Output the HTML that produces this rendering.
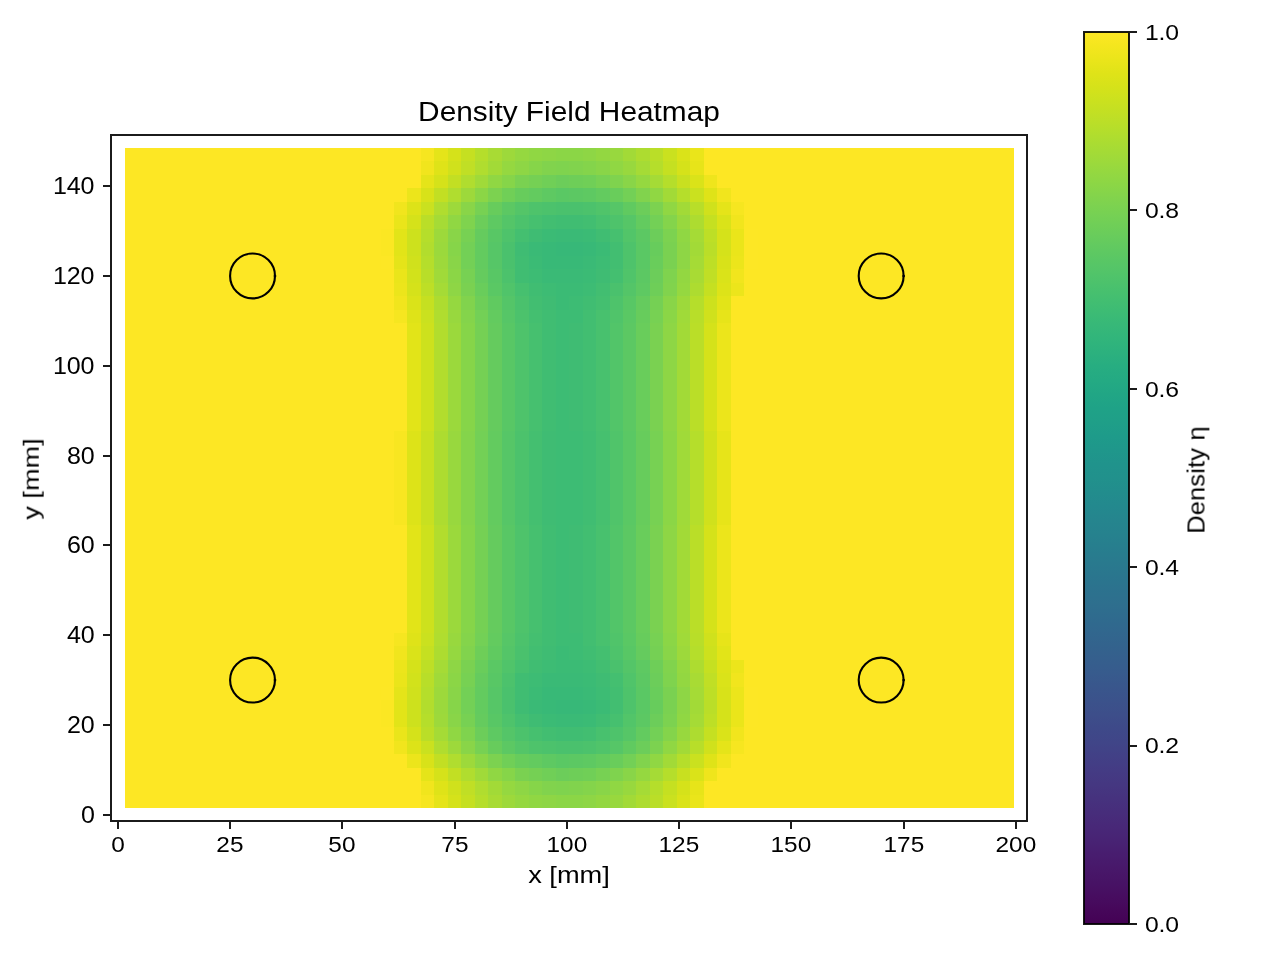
<!DOCTYPE html>
<html><head><meta charset="utf-8"><title>Density Field Heatmap</title>
<style>
html,body{margin:0;padding:0;background:#fff;}
body{width:1280px;height:960px;position:relative;overflow:hidden;font-family:"Liberation Sans",sans-serif;color:#000;}
svg{position:absolute;left:0;top:0;}
.t{position:absolute;white-space:nowrap;line-height:1;will-change:transform;}
</style></head><body>
<svg width="1280" height="960" viewBox="0 0 1280 960">
<defs><linearGradient id="vir" x1="0" y1="1" x2="0" y2="0">
<stop offset="0.0000" stop-color="#440154"/>
<stop offset="0.0156" stop-color="#46075a"/>
<stop offset="0.0312" stop-color="#470d60"/>
<stop offset="0.0469" stop-color="#471365"/>
<stop offset="0.0625" stop-color="#48186a"/>
<stop offset="0.0781" stop-color="#481d6f"/>
<stop offset="0.0938" stop-color="#482374"/>
<stop offset="0.1094" stop-color="#482878"/>
<stop offset="0.1250" stop-color="#472d7b"/>
<stop offset="0.1406" stop-color="#46327e"/>
<stop offset="0.1562" stop-color="#453781"/>
<stop offset="0.1719" stop-color="#443b84"/>
<stop offset="0.1875" stop-color="#424086"/>
<stop offset="0.2031" stop-color="#404588"/>
<stop offset="0.2188" stop-color="#3e4989"/>
<stop offset="0.2344" stop-color="#3d4e8a"/>
<stop offset="0.2500" stop-color="#3b528b"/>
<stop offset="0.2656" stop-color="#39568c"/>
<stop offset="0.2812" stop-color="#375b8d"/>
<stop offset="0.2969" stop-color="#355f8d"/>
<stop offset="0.3125" stop-color="#33638d"/>
<stop offset="0.3281" stop-color="#31678e"/>
<stop offset="0.3438" stop-color="#2f6b8e"/>
<stop offset="0.3594" stop-color="#2e6f8e"/>
<stop offset="0.3750" stop-color="#2c728e"/>
<stop offset="0.3906" stop-color="#2a768e"/>
<stop offset="0.4062" stop-color="#297a8e"/>
<stop offset="0.4219" stop-color="#277e8e"/>
<stop offset="0.4375" stop-color="#26828e"/>
<stop offset="0.4531" stop-color="#25858e"/>
<stop offset="0.4688" stop-color="#23898e"/>
<stop offset="0.4844" stop-color="#228d8d"/>
<stop offset="0.5000" stop-color="#21918c"/>
<stop offset="0.5156" stop-color="#20938c"/>
<stop offset="0.5312" stop-color="#1f978b"/>
<stop offset="0.5469" stop-color="#1e9b8a"/>
<stop offset="0.5625" stop-color="#1f9f88"/>
<stop offset="0.5781" stop-color="#1fa287"/>
<stop offset="0.5938" stop-color="#21a685"/>
<stop offset="0.6094" stop-color="#24aa83"/>
<stop offset="0.6250" stop-color="#27ad81"/>
<stop offset="0.6406" stop-color="#2cb17e"/>
<stop offset="0.6562" stop-color="#31b57b"/>
<stop offset="0.6719" stop-color="#37b878"/>
<stop offset="0.6875" stop-color="#3dbc74"/>
<stop offset="0.7031" stop-color="#44bf70"/>
<stop offset="0.7188" stop-color="#4cc26c"/>
<stop offset="0.7344" stop-color="#54c568"/>
<stop offset="0.7500" stop-color="#5cc863"/>
<stop offset="0.7656" stop-color="#65cb5e"/>
<stop offset="0.7812" stop-color="#6ece58"/>
<stop offset="0.7969" stop-color="#77d153"/>
<stop offset="0.8125" stop-color="#81d34d"/>
<stop offset="0.8281" stop-color="#8bd646"/>
<stop offset="0.8438" stop-color="#95d840"/>
<stop offset="0.8594" stop-color="#a0da39"/>
<stop offset="0.8750" stop-color="#aadc32"/>
<stop offset="0.8906" stop-color="#b5de2b"/>
<stop offset="0.9062" stop-color="#c0df25"/>
<stop offset="0.9219" stop-color="#cae11f"/>
<stop offset="0.9375" stop-color="#d5e21a"/>
<stop offset="0.9531" stop-color="#dfe318"/>
<stop offset="0.9688" stop-color="#eae51a"/>
<stop offset="0.9844" stop-color="#f4e61e"/>
<stop offset="1.0000" stop-color="#fde725"/>
</linearGradient></defs>
<g shape-rendering="crispEdges">
<rect x="125" y="148" width="889" height="660" fill="#fde724"/>
<rect x="421" y="148" width="13" height="13" fill="#f6e620"/>
<rect x="434" y="148" width="14" height="13" fill="#e5e419"/>
<rect x="448" y="148" width="13" height="13" fill="#d5e21a"/>
<rect x="461" y="148" width="14" height="13" fill="#c5e021"/>
<rect x="475" y="148" width="13" height="13" fill="#b5de2b"/>
<rect x="488" y="148" width="14" height="13" fill="#a8db34"/>
<rect x="502" y="148" width="13" height="13" fill="#9dd93b"/>
<rect x="515" y="148" width="14" height="13" fill="#95d840"/>
<rect x="529" y="148" width="13" height="13" fill="#90d743"/>
<rect x="542" y="148" width="14" height="13" fill="#8ed645"/>
<rect x="556" y="148" width="27" height="13" fill="#8bd646"/>
<rect x="583" y="148" width="13" height="13" fill="#8ed645"/>
<rect x="596" y="148" width="14" height="13" fill="#93d741"/>
<rect x="610" y="148" width="13" height="13" fill="#98d83e"/>
<rect x="623" y="148" width="13" height="13" fill="#a2da37"/>
<rect x="636" y="148" width="14" height="13" fill="#addc30"/>
<rect x="650" y="148" width="13" height="13" fill="#bade28"/>
<rect x="663" y="148" width="14" height="13" fill="#cae11f"/>
<rect x="677" y="148" width="13" height="13" fill="#dae319"/>
<rect x="690" y="148" width="14" height="13" fill="#eae51a"/>
<rect x="421" y="161" width="13" height="14" fill="#f1e51d"/>
<rect x="434" y="161" width="14" height="14" fill="#dfe318"/>
<rect x="448" y="161" width="13" height="14" fill="#d0e11c"/>
<rect x="461" y="161" width="14" height="14" fill="#c0df25"/>
<rect x="475" y="161" width="13" height="14" fill="#b0dd2f"/>
<rect x="488" y="161" width="14" height="14" fill="#a2da37"/>
<rect x="502" y="161" width="13" height="14" fill="#95d840"/>
<rect x="515" y="161" width="14" height="14" fill="#8ed645"/>
<rect x="529" y="161" width="13" height="14" fill="#86d549"/>
<rect x="542" y="161" width="14" height="14" fill="#81d34d"/>
<rect x="556" y="161" width="13" height="14" fill="#7fd34e"/>
<rect x="569" y="161" width="14" height="14" fill="#81d34d"/>
<rect x="583" y="161" width="13" height="14" fill="#84d44b"/>
<rect x="596" y="161" width="14" height="14" fill="#89d548"/>
<rect x="610" y="161" width="13" height="14" fill="#90d743"/>
<rect x="623" y="161" width="13" height="14" fill="#98d83e"/>
<rect x="636" y="161" width="14" height="14" fill="#a5db36"/>
<rect x="650" y="161" width="13" height="14" fill="#b5de2b"/>
<rect x="663" y="161" width="14" height="14" fill="#c5e021"/>
<rect x="677" y="161" width="13" height="14" fill="#d5e21a"/>
<rect x="690" y="161" width="14" height="14" fill="#e7e419"/>
<rect x="421" y="175" width="13" height="13" fill="#e5e419"/>
<rect x="434" y="175" width="14" height="13" fill="#d5e21a"/>
<rect x="448" y="175" width="13" height="13" fill="#c2df23"/>
<rect x="461" y="175" width="14" height="13" fill="#b0dd2f"/>
<rect x="475" y="175" width="13" height="13" fill="#a0da39"/>
<rect x="488" y="175" width="14" height="13" fill="#90d743"/>
<rect x="502" y="175" width="13" height="13" fill="#86d549"/>
<rect x="515" y="175" width="14" height="13" fill="#7ad151"/>
<rect x="529" y="175" width="13" height="13" fill="#75d054"/>
<rect x="542" y="175" width="14" height="13" fill="#70cf57"/>
<rect x="556" y="175" width="13" height="13" fill="#6ccd5a"/>
<rect x="569" y="175" width="14" height="13" fill="#6ece58"/>
<rect x="583" y="175" width="13" height="13" fill="#70cf57"/>
<rect x="596" y="175" width="14" height="13" fill="#77d153"/>
<rect x="610" y="175" width="13" height="13" fill="#7fd34e"/>
<rect x="623" y="175" width="13" height="13" fill="#89d548"/>
<rect x="636" y="175" width="14" height="13" fill="#95d840"/>
<rect x="650" y="175" width="13" height="13" fill="#a5db36"/>
<rect x="663" y="175" width="14" height="13" fill="#b5de2b"/>
<rect x="677" y="175" width="13" height="13" fill="#c8e020"/>
<rect x="690" y="175" width="14" height="13" fill="#dae319"/>
<rect x="704" y="175" width="13" height="13" fill="#efe51c"/>
<rect x="407" y="188" width="14" height="14" fill="#ece51b"/>
<rect x="421" y="188" width="13" height="14" fill="#d8e219"/>
<rect x="434" y="188" width="14" height="14" fill="#c2df23"/>
<rect x="448" y="188" width="13" height="14" fill="#b0dd2f"/>
<rect x="461" y="188" width="14" height="14" fill="#9dd93b"/>
<rect x="475" y="188" width="13" height="14" fill="#8bd646"/>
<rect x="488" y="188" width="14" height="14" fill="#7cd250"/>
<rect x="502" y="188" width="13" height="14" fill="#70cf57"/>
<rect x="515" y="188" width="14" height="14" fill="#67cc5c"/>
<rect x="529" y="188" width="13" height="14" fill="#63cb5f"/>
<rect x="542" y="188" width="14" height="14" fill="#5ec962"/>
<rect x="556" y="188" width="13" height="14" fill="#5ac864"/>
<rect x="569" y="188" width="14" height="14" fill="#5cc863"/>
<rect x="583" y="188" width="13" height="14" fill="#5ec962"/>
<rect x="596" y="188" width="14" height="14" fill="#63cb5f"/>
<rect x="610" y="188" width="13" height="14" fill="#69cd5b"/>
<rect x="623" y="188" width="13" height="14" fill="#73d056"/>
<rect x="636" y="188" width="14" height="14" fill="#81d34d"/>
<rect x="650" y="188" width="13" height="14" fill="#90d743"/>
<rect x="663" y="188" width="14" height="14" fill="#a2da37"/>
<rect x="677" y="188" width="13" height="14" fill="#b5de2b"/>
<rect x="690" y="188" width="14" height="14" fill="#cae11f"/>
<rect x="704" y="188" width="13" height="14" fill="#dfe318"/>
<rect x="717" y="188" width="14" height="14" fill="#f1e51d"/>
<rect x="394" y="202" width="13" height="13" fill="#f1e51d"/>
<rect x="407" y="202" width="14" height="13" fill="#dde318"/>
<rect x="421" y="202" width="13" height="13" fill="#cae11f"/>
<rect x="434" y="202" width="14" height="13" fill="#b0dd2f"/>
<rect x="448" y="202" width="13" height="13" fill="#9dd93b"/>
<rect x="461" y="202" width="14" height="13" fill="#89d548"/>
<rect x="475" y="202" width="13" height="13" fill="#77d153"/>
<rect x="488" y="202" width="14" height="13" fill="#67cc5c"/>
<rect x="502" y="202" width="13" height="13" fill="#5cc863"/>
<rect x="515" y="202" width="14" height="13" fill="#54c568"/>
<rect x="529" y="202" width="13" height="13" fill="#4ec36b"/>
<rect x="542" y="202" width="14" height="13" fill="#4cc26c"/>
<rect x="556" y="202" width="27" height="13" fill="#4ac16d"/>
<rect x="583" y="202" width="13" height="13" fill="#4cc26c"/>
<rect x="596" y="202" width="14" height="13" fill="#50c46a"/>
<rect x="610" y="202" width="13" height="13" fill="#56c667"/>
<rect x="623" y="202" width="13" height="13" fill="#60ca60"/>
<rect x="636" y="202" width="14" height="13" fill="#6ccd5a"/>
<rect x="650" y="202" width="13" height="13" fill="#7cd250"/>
<rect x="663" y="202" width="14" height="13" fill="#90d743"/>
<rect x="677" y="202" width="13" height="13" fill="#a2da37"/>
<rect x="690" y="202" width="14" height="13" fill="#b8de29"/>
<rect x="704" y="202" width="13" height="13" fill="#d0e11c"/>
<rect x="717" y="202" width="14" height="13" fill="#e5e419"/>
<rect x="731" y="202" width="13" height="13" fill="#f6e620"/>
<rect x="394" y="215" width="13" height="14" fill="#eae51a"/>
<rect x="407" y="215" width="14" height="14" fill="#d5e21a"/>
<rect x="421" y="215" width="13" height="14" fill="#bade28"/>
<rect x="434" y="215" width="14" height="14" fill="#a5db36"/>
<rect x="448" y="215" width="13" height="14" fill="#90d743"/>
<rect x="461" y="215" width="14" height="14" fill="#7fd34e"/>
<rect x="475" y="215" width="13" height="14" fill="#6ccd5a"/>
<rect x="488" y="215" width="14" height="14" fill="#5ec962"/>
<rect x="502" y="215" width="13" height="14" fill="#54c568"/>
<rect x="515" y="215" width="14" height="14" fill="#4cc26c"/>
<rect x="529" y="215" width="13" height="14" fill="#46c06f"/>
<rect x="542" y="215" width="14" height="14" fill="#42be71"/>
<rect x="556" y="215" width="27" height="14" fill="#40bd72"/>
<rect x="583" y="215" width="13" height="14" fill="#42be71"/>
<rect x="596" y="215" width="14" height="14" fill="#48c16e"/>
<rect x="610" y="215" width="13" height="14" fill="#4ec36b"/>
<rect x="623" y="215" width="13" height="14" fill="#56c667"/>
<rect x="636" y="215" width="14" height="14" fill="#63cb5f"/>
<rect x="650" y="215" width="13" height="14" fill="#73d056"/>
<rect x="663" y="215" width="14" height="14" fill="#84d44b"/>
<rect x="677" y="215" width="13" height="14" fill="#98d83e"/>
<rect x="690" y="215" width="14" height="14" fill="#addc30"/>
<rect x="704" y="215" width="13" height="14" fill="#c5e021"/>
<rect x="717" y="215" width="14" height="14" fill="#dae319"/>
<rect x="731" y="215" width="13" height="14" fill="#f1e51d"/>
<rect x="381" y="229" width="13" height="13" fill="#fbe723"/>
<rect x="394" y="229" width="13" height="13" fill="#e2e418"/>
<rect x="407" y="229" width="14" height="13" fill="#cde11d"/>
<rect x="421" y="229" width="13" height="13" fill="#b5de2b"/>
<rect x="434" y="229" width="14" height="13" fill="#9dd93b"/>
<rect x="448" y="229" width="13" height="13" fill="#89d548"/>
<rect x="461" y="229" width="14" height="13" fill="#77d153"/>
<rect x="475" y="229" width="13" height="13" fill="#65cb5e"/>
<rect x="488" y="229" width="14" height="13" fill="#58c765"/>
<rect x="502" y="229" width="13" height="13" fill="#4ec36b"/>
<rect x="515" y="229" width="14" height="13" fill="#44bf70"/>
<rect x="529" y="229" width="13" height="13" fill="#3fbc73"/>
<rect x="542" y="229" width="14" height="13" fill="#3bbb75"/>
<rect x="556" y="229" width="27" height="13" fill="#3aba76"/>
<rect x="583" y="229" width="13" height="13" fill="#3bbb75"/>
<rect x="596" y="229" width="14" height="13" fill="#40bd72"/>
<rect x="610" y="229" width="13" height="13" fill="#46c06f"/>
<rect x="623" y="229" width="13" height="13" fill="#52c569"/>
<rect x="636" y="229" width="14" height="13" fill="#5cc863"/>
<rect x="650" y="229" width="13" height="13" fill="#6ccd5a"/>
<rect x="663" y="229" width="14" height="13" fill="#7cd250"/>
<rect x="677" y="229" width="13" height="13" fill="#90d743"/>
<rect x="690" y="229" width="14" height="13" fill="#a5db36"/>
<rect x="704" y="229" width="13" height="13" fill="#bddf26"/>
<rect x="717" y="229" width="14" height="13" fill="#d5e21a"/>
<rect x="731" y="229" width="13" height="13" fill="#eae51a"/>
<rect x="744" y="229" width="14" height="13" fill="#fde725"/>
<rect x="381" y="242" width="13" height="14" fill="#fbe723"/>
<rect x="394" y="242" width="13" height="14" fill="#e2e418"/>
<rect x="407" y="242" width="14" height="14" fill="#cde11d"/>
<rect x="421" y="242" width="13" height="14" fill="#b2dd2d"/>
<rect x="434" y="242" width="14" height="14" fill="#9bd93c"/>
<rect x="448" y="242" width="13" height="14" fill="#86d549"/>
<rect x="461" y="242" width="14" height="14" fill="#73d056"/>
<rect x="475" y="242" width="13" height="14" fill="#63cb5f"/>
<rect x="488" y="242" width="14" height="14" fill="#56c667"/>
<rect x="502" y="242" width="13" height="14" fill="#4ac16d"/>
<rect x="515" y="242" width="14" height="14" fill="#3fbc73"/>
<rect x="529" y="242" width="13" height="14" fill="#3aba76"/>
<rect x="542" y="242" width="14" height="14" fill="#38b977"/>
<rect x="556" y="242" width="27" height="14" fill="#37b878"/>
<rect x="583" y="242" width="13" height="14" fill="#38b977"/>
<rect x="596" y="242" width="14" height="14" fill="#3bbb75"/>
<rect x="610" y="242" width="13" height="14" fill="#42be71"/>
<rect x="623" y="242" width="13" height="14" fill="#4ec36b"/>
<rect x="636" y="242" width="14" height="14" fill="#5ac864"/>
<rect x="650" y="242" width="13" height="14" fill="#67cc5c"/>
<rect x="663" y="242" width="14" height="14" fill="#7ad151"/>
<rect x="677" y="242" width="13" height="14" fill="#8ed645"/>
<rect x="690" y="242" width="14" height="14" fill="#a2da37"/>
<rect x="704" y="242" width="13" height="14" fill="#bade28"/>
<rect x="717" y="242" width="14" height="14" fill="#d5e21a"/>
<rect x="731" y="242" width="13" height="14" fill="#eae51a"/>
<rect x="744" y="242" width="14" height="14" fill="#fde725"/>
<rect x="381" y="256" width="13" height="13" fill="#fde725"/>
<rect x="394" y="256" width="13" height="13" fill="#e5e419"/>
<rect x="407" y="256" width="14" height="13" fill="#d0e11c"/>
<rect x="421" y="256" width="13" height="13" fill="#b5de2b"/>
<rect x="434" y="256" width="14" height="13" fill="#9dd93b"/>
<rect x="448" y="256" width="13" height="13" fill="#89d548"/>
<rect x="461" y="256" width="14" height="13" fill="#73d056"/>
<rect x="475" y="256" width="13" height="13" fill="#63cb5f"/>
<rect x="488" y="256" width="14" height="13" fill="#56c667"/>
<rect x="502" y="256" width="13" height="13" fill="#4ac16d"/>
<rect x="515" y="256" width="14" height="13" fill="#40bd72"/>
<rect x="529" y="256" width="13" height="13" fill="#3bbb75"/>
<rect x="542" y="256" width="41" height="13" fill="#38b977"/>
<rect x="583" y="256" width="13" height="13" fill="#3aba76"/>
<rect x="596" y="256" width="14" height="13" fill="#3dbc74"/>
<rect x="610" y="256" width="13" height="13" fill="#42be71"/>
<rect x="623" y="256" width="13" height="13" fill="#4ec36b"/>
<rect x="636" y="256" width="14" height="13" fill="#5ac864"/>
<rect x="650" y="256" width="13" height="13" fill="#69cd5b"/>
<rect x="663" y="256" width="14" height="13" fill="#7ad151"/>
<rect x="677" y="256" width="13" height="13" fill="#8ed645"/>
<rect x="690" y="256" width="14" height="13" fill="#a5db36"/>
<rect x="704" y="256" width="13" height="13" fill="#bddf26"/>
<rect x="717" y="256" width="14" height="13" fill="#d8e219"/>
<rect x="731" y="256" width="13" height="13" fill="#ece51b"/>
<rect x="744" y="256" width="14" height="13" fill="#fde725"/>
<rect x="394" y="269" width="13" height="14" fill="#eae51a"/>
<rect x="407" y="269" width="14" height="14" fill="#d2e21b"/>
<rect x="421" y="269" width="13" height="14" fill="#b8de29"/>
<rect x="434" y="269" width="14" height="14" fill="#a0da39"/>
<rect x="448" y="269" width="13" height="14" fill="#8bd646"/>
<rect x="461" y="269" width="14" height="14" fill="#77d153"/>
<rect x="475" y="269" width="13" height="14" fill="#65cb5e"/>
<rect x="488" y="269" width="14" height="14" fill="#58c765"/>
<rect x="502" y="269" width="13" height="14" fill="#4cc26c"/>
<rect x="515" y="269" width="14" height="14" fill="#40bd72"/>
<rect x="529" y="269" width="13" height="14" fill="#3dbc74"/>
<rect x="542" y="269" width="41" height="14" fill="#3aba76"/>
<rect x="583" y="269" width="13" height="14" fill="#3bbb75"/>
<rect x="596" y="269" width="14" height="14" fill="#3fbc73"/>
<rect x="610" y="269" width="13" height="14" fill="#44bf70"/>
<rect x="623" y="269" width="13" height="14" fill="#50c46a"/>
<rect x="636" y="269" width="14" height="14" fill="#5cc863"/>
<rect x="650" y="269" width="13" height="14" fill="#6ccd5a"/>
<rect x="663" y="269" width="14" height="14" fill="#7fd34e"/>
<rect x="677" y="269" width="13" height="14" fill="#93d741"/>
<rect x="690" y="269" width="14" height="14" fill="#a8db34"/>
<rect x="704" y="269" width="13" height="14" fill="#c0df25"/>
<rect x="717" y="269" width="14" height="14" fill="#dae319"/>
<rect x="731" y="269" width="13" height="14" fill="#f1e51d"/>
<rect x="394" y="283" width="13" height="13" fill="#ece51b"/>
<rect x="407" y="283" width="14" height="13" fill="#d5e21a"/>
<rect x="421" y="283" width="13" height="13" fill="#bddf26"/>
<rect x="434" y="283" width="14" height="13" fill="#a5db36"/>
<rect x="448" y="283" width="13" height="13" fill="#8ed645"/>
<rect x="461" y="283" width="14" height="13" fill="#7ad151"/>
<rect x="475" y="283" width="13" height="13" fill="#69cd5b"/>
<rect x="488" y="283" width="14" height="13" fill="#5ac864"/>
<rect x="502" y="283" width="13" height="13" fill="#50c46a"/>
<rect x="515" y="283" width="14" height="13" fill="#46c06f"/>
<rect x="529" y="283" width="13" height="13" fill="#40bd72"/>
<rect x="542" y="283" width="14" height="13" fill="#3dbc74"/>
<rect x="556" y="283" width="27" height="13" fill="#3bbb75"/>
<rect x="583" y="283" width="13" height="13" fill="#3dbc74"/>
<rect x="596" y="283" width="14" height="13" fill="#42be71"/>
<rect x="610" y="283" width="13" height="13" fill="#4ac16d"/>
<rect x="623" y="283" width="13" height="13" fill="#54c568"/>
<rect x="636" y="283" width="14" height="13" fill="#5ec962"/>
<rect x="650" y="283" width="13" height="13" fill="#6ece58"/>
<rect x="663" y="283" width="14" height="13" fill="#81d34d"/>
<rect x="677" y="283" width="13" height="13" fill="#95d840"/>
<rect x="690" y="283" width="14" height="13" fill="#addc30"/>
<rect x="704" y="283" width="13" height="13" fill="#c5e021"/>
<rect x="717" y="283" width="14" height="13" fill="#dde318"/>
<rect x="731" y="283" width="13" height="13" fill="#ece51b"/>
<rect x="394" y="296" width="13" height="14" fill="#f1e51d"/>
<rect x="407" y="296" width="14" height="14" fill="#dae319"/>
<rect x="421" y="296" width="13" height="14" fill="#c5e021"/>
<rect x="434" y="296" width="14" height="14" fill="#addc30"/>
<rect x="448" y="296" width="13" height="14" fill="#95d840"/>
<rect x="461" y="296" width="14" height="14" fill="#81d34d"/>
<rect x="475" y="296" width="13" height="14" fill="#6ece58"/>
<rect x="488" y="296" width="14" height="14" fill="#60ca60"/>
<rect x="502" y="296" width="13" height="14" fill="#54c568"/>
<rect x="515" y="296" width="14" height="14" fill="#4ac16d"/>
<rect x="529" y="296" width="13" height="14" fill="#42be71"/>
<rect x="542" y="296" width="14" height="14" fill="#3fbc73"/>
<rect x="556" y="296" width="13" height="14" fill="#3bbb75"/>
<rect x="569" y="296" width="14" height="14" fill="#3dbc74"/>
<rect x="583" y="296" width="13" height="14" fill="#40bd72"/>
<rect x="596" y="296" width="14" height="14" fill="#44bf70"/>
<rect x="610" y="296" width="13" height="14" fill="#4ec36b"/>
<rect x="623" y="296" width="13" height="14" fill="#58c765"/>
<rect x="636" y="296" width="14" height="14" fill="#65cb5e"/>
<rect x="650" y="296" width="13" height="14" fill="#75d054"/>
<rect x="663" y="296" width="14" height="14" fill="#89d548"/>
<rect x="677" y="296" width="13" height="14" fill="#9dd93b"/>
<rect x="690" y="296" width="14" height="14" fill="#b5de2b"/>
<rect x="704" y="296" width="13" height="14" fill="#cde11d"/>
<rect x="717" y="296" width="14" height="14" fill="#e2e418"/>
<rect x="394" y="310" width="13" height="13" fill="#f6e620"/>
<rect x="407" y="310" width="14" height="13" fill="#dfe318"/>
<rect x="421" y="310" width="13" height="13" fill="#cae11f"/>
<rect x="434" y="310" width="14" height="13" fill="#b0dd2f"/>
<rect x="448" y="310" width="13" height="13" fill="#98d83e"/>
<rect x="461" y="310" width="14" height="13" fill="#84d44b"/>
<rect x="475" y="310" width="13" height="13" fill="#73d056"/>
<rect x="488" y="310" width="14" height="13" fill="#63cb5f"/>
<rect x="502" y="310" width="13" height="13" fill="#56c667"/>
<rect x="515" y="310" width="14" height="13" fill="#4cc26c"/>
<rect x="529" y="310" width="13" height="13" fill="#44bf70"/>
<rect x="542" y="310" width="14" height="13" fill="#40bd72"/>
<rect x="556" y="310" width="27" height="13" fill="#3dbc74"/>
<rect x="583" y="310" width="13" height="13" fill="#42be71"/>
<rect x="596" y="310" width="14" height="13" fill="#48c16e"/>
<rect x="610" y="310" width="13" height="13" fill="#50c46a"/>
<rect x="623" y="310" width="13" height="13" fill="#5ac864"/>
<rect x="636" y="310" width="14" height="13" fill="#67cc5c"/>
<rect x="650" y="310" width="13" height="13" fill="#77d153"/>
<rect x="663" y="310" width="14" height="13" fill="#8bd646"/>
<rect x="677" y="310" width="13" height="13" fill="#a0da39"/>
<rect x="690" y="310" width="14" height="13" fill="#b8de29"/>
<rect x="704" y="310" width="13" height="13" fill="#d0e11c"/>
<rect x="717" y="310" width="14" height="13" fill="#e7e419"/>
<rect x="407" y="323" width="14" height="14" fill="#e2e418"/>
<rect x="421" y="323" width="13" height="14" fill="#cde11d"/>
<rect x="434" y="323" width="14" height="14" fill="#b2dd2d"/>
<rect x="448" y="323" width="13" height="14" fill="#9bd93c"/>
<rect x="461" y="323" width="14" height="14" fill="#86d549"/>
<rect x="475" y="323" width="13" height="14" fill="#75d054"/>
<rect x="488" y="323" width="14" height="14" fill="#65cb5e"/>
<rect x="502" y="323" width="13" height="14" fill="#58c765"/>
<rect x="515" y="323" width="14" height="14" fill="#4ec36b"/>
<rect x="529" y="323" width="13" height="14" fill="#46c06f"/>
<rect x="542" y="323" width="14" height="14" fill="#40bd72"/>
<rect x="556" y="323" width="13" height="14" fill="#3dbc74"/>
<rect x="569" y="323" width="14" height="14" fill="#3fbc73"/>
<rect x="583" y="323" width="13" height="14" fill="#42be71"/>
<rect x="596" y="323" width="14" height="14" fill="#48c16e"/>
<rect x="610" y="323" width="13" height="14" fill="#52c569"/>
<rect x="623" y="323" width="13" height="14" fill="#5cc863"/>
<rect x="636" y="323" width="14" height="14" fill="#69cd5b"/>
<rect x="650" y="323" width="13" height="14" fill="#7ad151"/>
<rect x="663" y="323" width="14" height="14" fill="#8ed645"/>
<rect x="677" y="323" width="13" height="14" fill="#a2da37"/>
<rect x="690" y="323" width="14" height="14" fill="#bade28"/>
<rect x="704" y="323" width="13" height="14" fill="#d5e21a"/>
<rect x="717" y="323" width="14" height="14" fill="#ece51b"/>
<rect x="407" y="337" width="14" height="13" fill="#e2e418"/>
<rect x="421" y="337" width="13" height="13" fill="#cde11d"/>
<rect x="434" y="337" width="14" height="13" fill="#b2dd2d"/>
<rect x="448" y="337" width="13" height="13" fill="#9bd93c"/>
<rect x="461" y="337" width="14" height="13" fill="#86d549"/>
<rect x="475" y="337" width="13" height="13" fill="#75d054"/>
<rect x="488" y="337" width="14" height="13" fill="#65cb5e"/>
<rect x="502" y="337" width="13" height="13" fill="#58c765"/>
<rect x="515" y="337" width="14" height="13" fill="#4ec36b"/>
<rect x="529" y="337" width="13" height="13" fill="#46c06f"/>
<rect x="542" y="337" width="14" height="13" fill="#40bd72"/>
<rect x="556" y="337" width="13" height="13" fill="#3dbc74"/>
<rect x="569" y="337" width="14" height="13" fill="#3fbc73"/>
<rect x="583" y="337" width="13" height="13" fill="#42be71"/>
<rect x="596" y="337" width="14" height="13" fill="#48c16e"/>
<rect x="610" y="337" width="13" height="13" fill="#52c569"/>
<rect x="623" y="337" width="13" height="13" fill="#5cc863"/>
<rect x="636" y="337" width="14" height="13" fill="#69cd5b"/>
<rect x="650" y="337" width="13" height="13" fill="#7ad151"/>
<rect x="663" y="337" width="14" height="13" fill="#8ed645"/>
<rect x="677" y="337" width="13" height="13" fill="#a2da37"/>
<rect x="690" y="337" width="14" height="13" fill="#bade28"/>
<rect x="704" y="337" width="13" height="13" fill="#d5e21a"/>
<rect x="717" y="337" width="14" height="13" fill="#ece51b"/>
<rect x="407" y="350" width="14" height="13" fill="#e2e418"/>
<rect x="421" y="350" width="13" height="13" fill="#cde11d"/>
<rect x="434" y="350" width="14" height="13" fill="#b2dd2d"/>
<rect x="448" y="350" width="13" height="13" fill="#9bd93c"/>
<rect x="461" y="350" width="14" height="13" fill="#86d549"/>
<rect x="475" y="350" width="13" height="13" fill="#75d054"/>
<rect x="488" y="350" width="14" height="13" fill="#65cb5e"/>
<rect x="502" y="350" width="13" height="13" fill="#58c765"/>
<rect x="515" y="350" width="14" height="13" fill="#4ec36b"/>
<rect x="529" y="350" width="13" height="13" fill="#46c06f"/>
<rect x="542" y="350" width="14" height="13" fill="#40bd72"/>
<rect x="556" y="350" width="13" height="13" fill="#3dbc74"/>
<rect x="569" y="350" width="14" height="13" fill="#3fbc73"/>
<rect x="583" y="350" width="13" height="13" fill="#42be71"/>
<rect x="596" y="350" width="14" height="13" fill="#48c16e"/>
<rect x="610" y="350" width="13" height="13" fill="#52c569"/>
<rect x="623" y="350" width="13" height="13" fill="#5cc863"/>
<rect x="636" y="350" width="14" height="13" fill="#69cd5b"/>
<rect x="650" y="350" width="13" height="13" fill="#7ad151"/>
<rect x="663" y="350" width="14" height="13" fill="#8ed645"/>
<rect x="677" y="350" width="13" height="13" fill="#a2da37"/>
<rect x="690" y="350" width="14" height="13" fill="#bade28"/>
<rect x="704" y="350" width="13" height="13" fill="#d5e21a"/>
<rect x="717" y="350" width="14" height="13" fill="#ece51b"/>
<rect x="407" y="363" width="14" height="14" fill="#e2e418"/>
<rect x="421" y="363" width="13" height="14" fill="#cde11d"/>
<rect x="434" y="363" width="14" height="14" fill="#b2dd2d"/>
<rect x="448" y="363" width="13" height="14" fill="#9bd93c"/>
<rect x="461" y="363" width="14" height="14" fill="#86d549"/>
<rect x="475" y="363" width="13" height="14" fill="#75d054"/>
<rect x="488" y="363" width="14" height="14" fill="#65cb5e"/>
<rect x="502" y="363" width="13" height="14" fill="#58c765"/>
<rect x="515" y="363" width="14" height="14" fill="#4ec36b"/>
<rect x="529" y="363" width="13" height="14" fill="#46c06f"/>
<rect x="542" y="363" width="14" height="14" fill="#40bd72"/>
<rect x="556" y="363" width="13" height="14" fill="#3dbc74"/>
<rect x="569" y="363" width="14" height="14" fill="#3fbc73"/>
<rect x="583" y="363" width="13" height="14" fill="#42be71"/>
<rect x="596" y="363" width="14" height="14" fill="#48c16e"/>
<rect x="610" y="363" width="13" height="14" fill="#52c569"/>
<rect x="623" y="363" width="13" height="14" fill="#5cc863"/>
<rect x="636" y="363" width="14" height="14" fill="#69cd5b"/>
<rect x="650" y="363" width="13" height="14" fill="#7ad151"/>
<rect x="663" y="363" width="14" height="14" fill="#8ed645"/>
<rect x="677" y="363" width="13" height="14" fill="#a2da37"/>
<rect x="690" y="363" width="14" height="14" fill="#bade28"/>
<rect x="704" y="363" width="13" height="14" fill="#d5e21a"/>
<rect x="717" y="363" width="14" height="14" fill="#ece51b"/>
<rect x="407" y="377" width="14" height="13" fill="#e2e418"/>
<rect x="421" y="377" width="13" height="13" fill="#cde11d"/>
<rect x="434" y="377" width="14" height="13" fill="#b2dd2d"/>
<rect x="448" y="377" width="13" height="13" fill="#9bd93c"/>
<rect x="461" y="377" width="14" height="13" fill="#86d549"/>
<rect x="475" y="377" width="13" height="13" fill="#75d054"/>
<rect x="488" y="377" width="14" height="13" fill="#65cb5e"/>
<rect x="502" y="377" width="13" height="13" fill="#58c765"/>
<rect x="515" y="377" width="14" height="13" fill="#4ec36b"/>
<rect x="529" y="377" width="13" height="13" fill="#46c06f"/>
<rect x="542" y="377" width="14" height="13" fill="#40bd72"/>
<rect x="556" y="377" width="13" height="13" fill="#3dbc74"/>
<rect x="569" y="377" width="14" height="13" fill="#3fbc73"/>
<rect x="583" y="377" width="13" height="13" fill="#42be71"/>
<rect x="596" y="377" width="14" height="13" fill="#48c16e"/>
<rect x="610" y="377" width="13" height="13" fill="#52c569"/>
<rect x="623" y="377" width="13" height="13" fill="#5cc863"/>
<rect x="636" y="377" width="14" height="13" fill="#69cd5b"/>
<rect x="650" y="377" width="13" height="13" fill="#7ad151"/>
<rect x="663" y="377" width="14" height="13" fill="#8ed645"/>
<rect x="677" y="377" width="13" height="13" fill="#a2da37"/>
<rect x="690" y="377" width="14" height="13" fill="#bade28"/>
<rect x="704" y="377" width="13" height="13" fill="#d5e21a"/>
<rect x="717" y="377" width="14" height="13" fill="#ece51b"/>
<rect x="407" y="390" width="14" height="14" fill="#e2e418"/>
<rect x="421" y="390" width="13" height="14" fill="#cde11d"/>
<rect x="434" y="390" width="14" height="14" fill="#b2dd2d"/>
<rect x="448" y="390" width="13" height="14" fill="#9bd93c"/>
<rect x="461" y="390" width="14" height="14" fill="#86d549"/>
<rect x="475" y="390" width="13" height="14" fill="#75d054"/>
<rect x="488" y="390" width="14" height="14" fill="#65cb5e"/>
<rect x="502" y="390" width="13" height="14" fill="#58c765"/>
<rect x="515" y="390" width="14" height="14" fill="#4ec36b"/>
<rect x="529" y="390" width="13" height="14" fill="#46c06f"/>
<rect x="542" y="390" width="14" height="14" fill="#40bd72"/>
<rect x="556" y="390" width="13" height="14" fill="#3dbc74"/>
<rect x="569" y="390" width="14" height="14" fill="#3fbc73"/>
<rect x="583" y="390" width="13" height="14" fill="#42be71"/>
<rect x="596" y="390" width="14" height="14" fill="#48c16e"/>
<rect x="610" y="390" width="13" height="14" fill="#52c569"/>
<rect x="623" y="390" width="13" height="14" fill="#5cc863"/>
<rect x="636" y="390" width="14" height="14" fill="#69cd5b"/>
<rect x="650" y="390" width="13" height="14" fill="#7ad151"/>
<rect x="663" y="390" width="14" height="14" fill="#8ed645"/>
<rect x="677" y="390" width="13" height="14" fill="#a2da37"/>
<rect x="690" y="390" width="14" height="14" fill="#bade28"/>
<rect x="704" y="390" width="13" height="14" fill="#d5e21a"/>
<rect x="717" y="390" width="14" height="14" fill="#ece51b"/>
<rect x="407" y="404" width="14" height="13" fill="#e2e418"/>
<rect x="421" y="404" width="13" height="13" fill="#cde11d"/>
<rect x="434" y="404" width="14" height="13" fill="#b2dd2d"/>
<rect x="448" y="404" width="13" height="13" fill="#9bd93c"/>
<rect x="461" y="404" width="14" height="13" fill="#86d549"/>
<rect x="475" y="404" width="13" height="13" fill="#75d054"/>
<rect x="488" y="404" width="14" height="13" fill="#65cb5e"/>
<rect x="502" y="404" width="13" height="13" fill="#58c765"/>
<rect x="515" y="404" width="14" height="13" fill="#4ec36b"/>
<rect x="529" y="404" width="13" height="13" fill="#46c06f"/>
<rect x="542" y="404" width="14" height="13" fill="#40bd72"/>
<rect x="556" y="404" width="13" height="13" fill="#3dbc74"/>
<rect x="569" y="404" width="14" height="13" fill="#3fbc73"/>
<rect x="583" y="404" width="13" height="13" fill="#42be71"/>
<rect x="596" y="404" width="14" height="13" fill="#48c16e"/>
<rect x="610" y="404" width="13" height="13" fill="#52c569"/>
<rect x="623" y="404" width="13" height="13" fill="#5cc863"/>
<rect x="636" y="404" width="14" height="13" fill="#69cd5b"/>
<rect x="650" y="404" width="13" height="13" fill="#7ad151"/>
<rect x="663" y="404" width="14" height="13" fill="#8ed645"/>
<rect x="677" y="404" width="13" height="13" fill="#a2da37"/>
<rect x="690" y="404" width="14" height="13" fill="#bade28"/>
<rect x="704" y="404" width="13" height="13" fill="#d5e21a"/>
<rect x="717" y="404" width="14" height="13" fill="#ece51b"/>
<rect x="407" y="417" width="14" height="14" fill="#e2e418"/>
<rect x="421" y="417" width="13" height="14" fill="#cde11d"/>
<rect x="434" y="417" width="14" height="14" fill="#b2dd2d"/>
<rect x="448" y="417" width="13" height="14" fill="#9bd93c"/>
<rect x="461" y="417" width="14" height="14" fill="#86d549"/>
<rect x="475" y="417" width="13" height="14" fill="#75d054"/>
<rect x="488" y="417" width="14" height="14" fill="#65cb5e"/>
<rect x="502" y="417" width="13" height="14" fill="#58c765"/>
<rect x="515" y="417" width="14" height="14" fill="#4ec36b"/>
<rect x="529" y="417" width="13" height="14" fill="#46c06f"/>
<rect x="542" y="417" width="14" height="14" fill="#40bd72"/>
<rect x="556" y="417" width="13" height="14" fill="#3dbc74"/>
<rect x="569" y="417" width="14" height="14" fill="#3fbc73"/>
<rect x="583" y="417" width="13" height="14" fill="#42be71"/>
<rect x="596" y="417" width="14" height="14" fill="#48c16e"/>
<rect x="610" y="417" width="13" height="14" fill="#52c569"/>
<rect x="623" y="417" width="13" height="14" fill="#5cc863"/>
<rect x="636" y="417" width="14" height="14" fill="#69cd5b"/>
<rect x="650" y="417" width="13" height="14" fill="#7ad151"/>
<rect x="663" y="417" width="14" height="14" fill="#8ed645"/>
<rect x="677" y="417" width="13" height="14" fill="#a2da37"/>
<rect x="690" y="417" width="14" height="14" fill="#bade28"/>
<rect x="704" y="417" width="13" height="14" fill="#d5e21a"/>
<rect x="717" y="417" width="14" height="14" fill="#ece51b"/>
<rect x="394" y="431" width="13" height="13" fill="#f8e621"/>
<rect x="407" y="431" width="14" height="13" fill="#dde318"/>
<rect x="421" y="431" width="13" height="13" fill="#c8e020"/>
<rect x="434" y="431" width="14" height="13" fill="#addc30"/>
<rect x="448" y="431" width="13" height="13" fill="#98d83e"/>
<rect x="461" y="431" width="14" height="13" fill="#84d44b"/>
<rect x="475" y="431" width="13" height="13" fill="#73d056"/>
<rect x="488" y="431" width="14" height="13" fill="#63cb5f"/>
<rect x="502" y="431" width="13" height="13" fill="#56c667"/>
<rect x="515" y="431" width="14" height="13" fill="#4cc26c"/>
<rect x="529" y="431" width="13" height="13" fill="#44bf70"/>
<rect x="542" y="431" width="14" height="13" fill="#3fbc73"/>
<rect x="556" y="431" width="27" height="13" fill="#3dbc74"/>
<rect x="583" y="431" width="13" height="13" fill="#40bd72"/>
<rect x="596" y="431" width="14" height="13" fill="#46c06f"/>
<rect x="610" y="431" width="13" height="13" fill="#50c46a"/>
<rect x="623" y="431" width="13" height="13" fill="#5ac864"/>
<rect x="636" y="431" width="14" height="13" fill="#67cc5c"/>
<rect x="650" y="431" width="13" height="13" fill="#77d153"/>
<rect x="663" y="431" width="14" height="13" fill="#8bd646"/>
<rect x="677" y="431" width="13" height="13" fill="#a0da39"/>
<rect x="690" y="431" width="14" height="13" fill="#b5de2b"/>
<rect x="704" y="431" width="13" height="13" fill="#d0e11c"/>
<rect x="717" y="431" width="14" height="13" fill="#e7e419"/>
<rect x="394" y="444" width="13" height="14" fill="#f8e621"/>
<rect x="407" y="444" width="14" height="14" fill="#dde318"/>
<rect x="421" y="444" width="13" height="14" fill="#c8e020"/>
<rect x="434" y="444" width="14" height="14" fill="#addc30"/>
<rect x="448" y="444" width="13" height="14" fill="#98d83e"/>
<rect x="461" y="444" width="14" height="14" fill="#84d44b"/>
<rect x="475" y="444" width="13" height="14" fill="#73d056"/>
<rect x="488" y="444" width="14" height="14" fill="#63cb5f"/>
<rect x="502" y="444" width="13" height="14" fill="#56c667"/>
<rect x="515" y="444" width="14" height="14" fill="#4cc26c"/>
<rect x="529" y="444" width="13" height="14" fill="#44bf70"/>
<rect x="542" y="444" width="14" height="14" fill="#3fbc73"/>
<rect x="556" y="444" width="27" height="14" fill="#3dbc74"/>
<rect x="583" y="444" width="13" height="14" fill="#40bd72"/>
<rect x="596" y="444" width="14" height="14" fill="#46c06f"/>
<rect x="610" y="444" width="13" height="14" fill="#50c46a"/>
<rect x="623" y="444" width="13" height="14" fill="#5ac864"/>
<rect x="636" y="444" width="14" height="14" fill="#67cc5c"/>
<rect x="650" y="444" width="13" height="14" fill="#77d153"/>
<rect x="663" y="444" width="14" height="14" fill="#8bd646"/>
<rect x="677" y="444" width="13" height="14" fill="#a0da39"/>
<rect x="690" y="444" width="14" height="14" fill="#b5de2b"/>
<rect x="704" y="444" width="13" height="14" fill="#d0e11c"/>
<rect x="717" y="444" width="14" height="14" fill="#e7e419"/>
<rect x="394" y="458" width="13" height="13" fill="#f8e621"/>
<rect x="407" y="458" width="14" height="13" fill="#dde318"/>
<rect x="421" y="458" width="13" height="13" fill="#c8e020"/>
<rect x="434" y="458" width="14" height="13" fill="#addc30"/>
<rect x="448" y="458" width="13" height="13" fill="#98d83e"/>
<rect x="461" y="458" width="14" height="13" fill="#84d44b"/>
<rect x="475" y="458" width="13" height="13" fill="#73d056"/>
<rect x="488" y="458" width="14" height="13" fill="#63cb5f"/>
<rect x="502" y="458" width="13" height="13" fill="#56c667"/>
<rect x="515" y="458" width="14" height="13" fill="#4cc26c"/>
<rect x="529" y="458" width="13" height="13" fill="#44bf70"/>
<rect x="542" y="458" width="14" height="13" fill="#3fbc73"/>
<rect x="556" y="458" width="27" height="13" fill="#3dbc74"/>
<rect x="583" y="458" width="13" height="13" fill="#40bd72"/>
<rect x="596" y="458" width="14" height="13" fill="#46c06f"/>
<rect x="610" y="458" width="13" height="13" fill="#50c46a"/>
<rect x="623" y="458" width="13" height="13" fill="#5ac864"/>
<rect x="636" y="458" width="14" height="13" fill="#67cc5c"/>
<rect x="650" y="458" width="13" height="13" fill="#77d153"/>
<rect x="663" y="458" width="14" height="13" fill="#8bd646"/>
<rect x="677" y="458" width="13" height="13" fill="#a0da39"/>
<rect x="690" y="458" width="14" height="13" fill="#b5de2b"/>
<rect x="704" y="458" width="13" height="13" fill="#d0e11c"/>
<rect x="717" y="458" width="14" height="13" fill="#e7e419"/>
<rect x="394" y="471" width="13" height="14" fill="#f8e621"/>
<rect x="407" y="471" width="14" height="14" fill="#dde318"/>
<rect x="421" y="471" width="13" height="14" fill="#c8e020"/>
<rect x="434" y="471" width="14" height="14" fill="#addc30"/>
<rect x="448" y="471" width="13" height="14" fill="#98d83e"/>
<rect x="461" y="471" width="14" height="14" fill="#84d44b"/>
<rect x="475" y="471" width="13" height="14" fill="#73d056"/>
<rect x="488" y="471" width="14" height="14" fill="#63cb5f"/>
<rect x="502" y="471" width="13" height="14" fill="#56c667"/>
<rect x="515" y="471" width="14" height="14" fill="#4cc26c"/>
<rect x="529" y="471" width="13" height="14" fill="#44bf70"/>
<rect x="542" y="471" width="14" height="14" fill="#3fbc73"/>
<rect x="556" y="471" width="27" height="14" fill="#3dbc74"/>
<rect x="583" y="471" width="13" height="14" fill="#40bd72"/>
<rect x="596" y="471" width="14" height="14" fill="#46c06f"/>
<rect x="610" y="471" width="13" height="14" fill="#50c46a"/>
<rect x="623" y="471" width="13" height="14" fill="#5ac864"/>
<rect x="636" y="471" width="14" height="14" fill="#67cc5c"/>
<rect x="650" y="471" width="13" height="14" fill="#77d153"/>
<rect x="663" y="471" width="14" height="14" fill="#8bd646"/>
<rect x="677" y="471" width="13" height="14" fill="#a0da39"/>
<rect x="690" y="471" width="14" height="14" fill="#b5de2b"/>
<rect x="704" y="471" width="13" height="14" fill="#d0e11c"/>
<rect x="717" y="471" width="14" height="14" fill="#e7e419"/>
<rect x="394" y="485" width="13" height="13" fill="#f8e621"/>
<rect x="407" y="485" width="14" height="13" fill="#dde318"/>
<rect x="421" y="485" width="13" height="13" fill="#c8e020"/>
<rect x="434" y="485" width="14" height="13" fill="#addc30"/>
<rect x="448" y="485" width="13" height="13" fill="#98d83e"/>
<rect x="461" y="485" width="14" height="13" fill="#84d44b"/>
<rect x="475" y="485" width="13" height="13" fill="#73d056"/>
<rect x="488" y="485" width="14" height="13" fill="#63cb5f"/>
<rect x="502" y="485" width="13" height="13" fill="#56c667"/>
<rect x="515" y="485" width="14" height="13" fill="#4cc26c"/>
<rect x="529" y="485" width="13" height="13" fill="#44bf70"/>
<rect x="542" y="485" width="14" height="13" fill="#3fbc73"/>
<rect x="556" y="485" width="27" height="13" fill="#3dbc74"/>
<rect x="583" y="485" width="13" height="13" fill="#40bd72"/>
<rect x="596" y="485" width="14" height="13" fill="#46c06f"/>
<rect x="610" y="485" width="13" height="13" fill="#50c46a"/>
<rect x="623" y="485" width="13" height="13" fill="#5ac864"/>
<rect x="636" y="485" width="14" height="13" fill="#67cc5c"/>
<rect x="650" y="485" width="13" height="13" fill="#77d153"/>
<rect x="663" y="485" width="14" height="13" fill="#8bd646"/>
<rect x="677" y="485" width="13" height="13" fill="#a0da39"/>
<rect x="690" y="485" width="14" height="13" fill="#b5de2b"/>
<rect x="704" y="485" width="13" height="13" fill="#d0e11c"/>
<rect x="717" y="485" width="14" height="13" fill="#e7e419"/>
<rect x="394" y="498" width="13" height="14" fill="#f8e621"/>
<rect x="407" y="498" width="14" height="14" fill="#dde318"/>
<rect x="421" y="498" width="13" height="14" fill="#c8e020"/>
<rect x="434" y="498" width="14" height="14" fill="#addc30"/>
<rect x="448" y="498" width="13" height="14" fill="#98d83e"/>
<rect x="461" y="498" width="14" height="14" fill="#84d44b"/>
<rect x="475" y="498" width="13" height="14" fill="#73d056"/>
<rect x="488" y="498" width="14" height="14" fill="#63cb5f"/>
<rect x="502" y="498" width="13" height="14" fill="#56c667"/>
<rect x="515" y="498" width="14" height="14" fill="#4cc26c"/>
<rect x="529" y="498" width="13" height="14" fill="#44bf70"/>
<rect x="542" y="498" width="14" height="14" fill="#3fbc73"/>
<rect x="556" y="498" width="27" height="14" fill="#3dbc74"/>
<rect x="583" y="498" width="13" height="14" fill="#40bd72"/>
<rect x="596" y="498" width="14" height="14" fill="#46c06f"/>
<rect x="610" y="498" width="13" height="14" fill="#50c46a"/>
<rect x="623" y="498" width="13" height="14" fill="#5ac864"/>
<rect x="636" y="498" width="14" height="14" fill="#67cc5c"/>
<rect x="650" y="498" width="13" height="14" fill="#77d153"/>
<rect x="663" y="498" width="14" height="14" fill="#8bd646"/>
<rect x="677" y="498" width="13" height="14" fill="#a0da39"/>
<rect x="690" y="498" width="14" height="14" fill="#b5de2b"/>
<rect x="704" y="498" width="13" height="14" fill="#d0e11c"/>
<rect x="717" y="498" width="14" height="14" fill="#e7e419"/>
<rect x="394" y="512" width="13" height="13" fill="#f8e621"/>
<rect x="407" y="512" width="14" height="13" fill="#dde318"/>
<rect x="421" y="512" width="13" height="13" fill="#c8e020"/>
<rect x="434" y="512" width="14" height="13" fill="#addc30"/>
<rect x="448" y="512" width="13" height="13" fill="#98d83e"/>
<rect x="461" y="512" width="14" height="13" fill="#84d44b"/>
<rect x="475" y="512" width="13" height="13" fill="#73d056"/>
<rect x="488" y="512" width="14" height="13" fill="#63cb5f"/>
<rect x="502" y="512" width="13" height="13" fill="#56c667"/>
<rect x="515" y="512" width="14" height="13" fill="#4cc26c"/>
<rect x="529" y="512" width="13" height="13" fill="#44bf70"/>
<rect x="542" y="512" width="14" height="13" fill="#3fbc73"/>
<rect x="556" y="512" width="27" height="13" fill="#3dbc74"/>
<rect x="583" y="512" width="13" height="13" fill="#40bd72"/>
<rect x="596" y="512" width="14" height="13" fill="#46c06f"/>
<rect x="610" y="512" width="13" height="13" fill="#50c46a"/>
<rect x="623" y="512" width="13" height="13" fill="#5ac864"/>
<rect x="636" y="512" width="14" height="13" fill="#67cc5c"/>
<rect x="650" y="512" width="13" height="13" fill="#77d153"/>
<rect x="663" y="512" width="14" height="13" fill="#8bd646"/>
<rect x="677" y="512" width="13" height="13" fill="#a0da39"/>
<rect x="690" y="512" width="14" height="13" fill="#b5de2b"/>
<rect x="704" y="512" width="13" height="13" fill="#d0e11c"/>
<rect x="717" y="512" width="14" height="13" fill="#e7e419"/>
<rect x="407" y="525" width="14" height="14" fill="#e2e418"/>
<rect x="421" y="525" width="13" height="14" fill="#cde11d"/>
<rect x="434" y="525" width="14" height="14" fill="#b2dd2d"/>
<rect x="448" y="525" width="13" height="14" fill="#9bd93c"/>
<rect x="461" y="525" width="14" height="14" fill="#86d549"/>
<rect x="475" y="525" width="13" height="14" fill="#75d054"/>
<rect x="488" y="525" width="14" height="14" fill="#65cb5e"/>
<rect x="502" y="525" width="13" height="14" fill="#58c765"/>
<rect x="515" y="525" width="14" height="14" fill="#4ec36b"/>
<rect x="529" y="525" width="13" height="14" fill="#46c06f"/>
<rect x="542" y="525" width="14" height="14" fill="#40bd72"/>
<rect x="556" y="525" width="13" height="14" fill="#3dbc74"/>
<rect x="569" y="525" width="14" height="14" fill="#3fbc73"/>
<rect x="583" y="525" width="13" height="14" fill="#42be71"/>
<rect x="596" y="525" width="14" height="14" fill="#48c16e"/>
<rect x="610" y="525" width="13" height="14" fill="#52c569"/>
<rect x="623" y="525" width="13" height="14" fill="#5cc863"/>
<rect x="636" y="525" width="14" height="14" fill="#69cd5b"/>
<rect x="650" y="525" width="13" height="14" fill="#7ad151"/>
<rect x="663" y="525" width="14" height="14" fill="#8ed645"/>
<rect x="677" y="525" width="13" height="14" fill="#a2da37"/>
<rect x="690" y="525" width="14" height="14" fill="#bade28"/>
<rect x="704" y="525" width="13" height="14" fill="#d5e21a"/>
<rect x="717" y="525" width="14" height="14" fill="#ece51b"/>
<rect x="407" y="539" width="14" height="13" fill="#e2e418"/>
<rect x="421" y="539" width="13" height="13" fill="#cde11d"/>
<rect x="434" y="539" width="14" height="13" fill="#b2dd2d"/>
<rect x="448" y="539" width="13" height="13" fill="#9bd93c"/>
<rect x="461" y="539" width="14" height="13" fill="#86d549"/>
<rect x="475" y="539" width="13" height="13" fill="#75d054"/>
<rect x="488" y="539" width="14" height="13" fill="#65cb5e"/>
<rect x="502" y="539" width="13" height="13" fill="#58c765"/>
<rect x="515" y="539" width="14" height="13" fill="#4ec36b"/>
<rect x="529" y="539" width="13" height="13" fill="#46c06f"/>
<rect x="542" y="539" width="14" height="13" fill="#40bd72"/>
<rect x="556" y="539" width="13" height="13" fill="#3dbc74"/>
<rect x="569" y="539" width="14" height="13" fill="#3fbc73"/>
<rect x="583" y="539" width="13" height="13" fill="#42be71"/>
<rect x="596" y="539" width="14" height="13" fill="#48c16e"/>
<rect x="610" y="539" width="13" height="13" fill="#52c569"/>
<rect x="623" y="539" width="13" height="13" fill="#5cc863"/>
<rect x="636" y="539" width="14" height="13" fill="#69cd5b"/>
<rect x="650" y="539" width="13" height="13" fill="#7ad151"/>
<rect x="663" y="539" width="14" height="13" fill="#8ed645"/>
<rect x="677" y="539" width="13" height="13" fill="#a2da37"/>
<rect x="690" y="539" width="14" height="13" fill="#bade28"/>
<rect x="704" y="539" width="13" height="13" fill="#d5e21a"/>
<rect x="717" y="539" width="14" height="13" fill="#ece51b"/>
<rect x="407" y="552" width="14" height="14" fill="#e2e418"/>
<rect x="421" y="552" width="13" height="14" fill="#cde11d"/>
<rect x="434" y="552" width="14" height="14" fill="#b2dd2d"/>
<rect x="448" y="552" width="13" height="14" fill="#9bd93c"/>
<rect x="461" y="552" width="14" height="14" fill="#86d549"/>
<rect x="475" y="552" width="13" height="14" fill="#75d054"/>
<rect x="488" y="552" width="14" height="14" fill="#65cb5e"/>
<rect x="502" y="552" width="13" height="14" fill="#58c765"/>
<rect x="515" y="552" width="14" height="14" fill="#4ec36b"/>
<rect x="529" y="552" width="13" height="14" fill="#46c06f"/>
<rect x="542" y="552" width="14" height="14" fill="#40bd72"/>
<rect x="556" y="552" width="13" height="14" fill="#3dbc74"/>
<rect x="569" y="552" width="14" height="14" fill="#3fbc73"/>
<rect x="583" y="552" width="13" height="14" fill="#42be71"/>
<rect x="596" y="552" width="14" height="14" fill="#48c16e"/>
<rect x="610" y="552" width="13" height="14" fill="#52c569"/>
<rect x="623" y="552" width="13" height="14" fill="#5cc863"/>
<rect x="636" y="552" width="14" height="14" fill="#69cd5b"/>
<rect x="650" y="552" width="13" height="14" fill="#7ad151"/>
<rect x="663" y="552" width="14" height="14" fill="#8ed645"/>
<rect x="677" y="552" width="13" height="14" fill="#a2da37"/>
<rect x="690" y="552" width="14" height="14" fill="#bade28"/>
<rect x="704" y="552" width="13" height="14" fill="#d5e21a"/>
<rect x="717" y="552" width="14" height="14" fill="#ece51b"/>
<rect x="407" y="566" width="14" height="13" fill="#e2e418"/>
<rect x="421" y="566" width="13" height="13" fill="#cde11d"/>
<rect x="434" y="566" width="14" height="13" fill="#b2dd2d"/>
<rect x="448" y="566" width="13" height="13" fill="#9bd93c"/>
<rect x="461" y="566" width="14" height="13" fill="#86d549"/>
<rect x="475" y="566" width="13" height="13" fill="#75d054"/>
<rect x="488" y="566" width="14" height="13" fill="#65cb5e"/>
<rect x="502" y="566" width="13" height="13" fill="#58c765"/>
<rect x="515" y="566" width="14" height="13" fill="#4ec36b"/>
<rect x="529" y="566" width="13" height="13" fill="#46c06f"/>
<rect x="542" y="566" width="14" height="13" fill="#40bd72"/>
<rect x="556" y="566" width="13" height="13" fill="#3dbc74"/>
<rect x="569" y="566" width="14" height="13" fill="#3fbc73"/>
<rect x="583" y="566" width="13" height="13" fill="#42be71"/>
<rect x="596" y="566" width="14" height="13" fill="#48c16e"/>
<rect x="610" y="566" width="13" height="13" fill="#52c569"/>
<rect x="623" y="566" width="13" height="13" fill="#5cc863"/>
<rect x="636" y="566" width="14" height="13" fill="#69cd5b"/>
<rect x="650" y="566" width="13" height="13" fill="#7ad151"/>
<rect x="663" y="566" width="14" height="13" fill="#8ed645"/>
<rect x="677" y="566" width="13" height="13" fill="#a2da37"/>
<rect x="690" y="566" width="14" height="13" fill="#bade28"/>
<rect x="704" y="566" width="13" height="13" fill="#d5e21a"/>
<rect x="717" y="566" width="14" height="13" fill="#ece51b"/>
<rect x="407" y="579" width="14" height="13" fill="#e2e418"/>
<rect x="421" y="579" width="13" height="13" fill="#cde11d"/>
<rect x="434" y="579" width="14" height="13" fill="#b2dd2d"/>
<rect x="448" y="579" width="13" height="13" fill="#9bd93c"/>
<rect x="461" y="579" width="14" height="13" fill="#86d549"/>
<rect x="475" y="579" width="13" height="13" fill="#75d054"/>
<rect x="488" y="579" width="14" height="13" fill="#65cb5e"/>
<rect x="502" y="579" width="13" height="13" fill="#58c765"/>
<rect x="515" y="579" width="14" height="13" fill="#4ec36b"/>
<rect x="529" y="579" width="13" height="13" fill="#46c06f"/>
<rect x="542" y="579" width="14" height="13" fill="#40bd72"/>
<rect x="556" y="579" width="13" height="13" fill="#3dbc74"/>
<rect x="569" y="579" width="14" height="13" fill="#3fbc73"/>
<rect x="583" y="579" width="13" height="13" fill="#42be71"/>
<rect x="596" y="579" width="14" height="13" fill="#48c16e"/>
<rect x="610" y="579" width="13" height="13" fill="#52c569"/>
<rect x="623" y="579" width="13" height="13" fill="#5cc863"/>
<rect x="636" y="579" width="14" height="13" fill="#69cd5b"/>
<rect x="650" y="579" width="13" height="13" fill="#7ad151"/>
<rect x="663" y="579" width="14" height="13" fill="#8ed645"/>
<rect x="677" y="579" width="13" height="13" fill="#a2da37"/>
<rect x="690" y="579" width="14" height="13" fill="#bade28"/>
<rect x="704" y="579" width="13" height="13" fill="#d5e21a"/>
<rect x="717" y="579" width="14" height="13" fill="#ece51b"/>
<rect x="407" y="592" width="14" height="14" fill="#e2e418"/>
<rect x="421" y="592" width="13" height="14" fill="#cde11d"/>
<rect x="434" y="592" width="14" height="14" fill="#b2dd2d"/>
<rect x="448" y="592" width="13" height="14" fill="#9bd93c"/>
<rect x="461" y="592" width="14" height="14" fill="#86d549"/>
<rect x="475" y="592" width="13" height="14" fill="#75d054"/>
<rect x="488" y="592" width="14" height="14" fill="#65cb5e"/>
<rect x="502" y="592" width="13" height="14" fill="#58c765"/>
<rect x="515" y="592" width="14" height="14" fill="#4ec36b"/>
<rect x="529" y="592" width="13" height="14" fill="#46c06f"/>
<rect x="542" y="592" width="14" height="14" fill="#40bd72"/>
<rect x="556" y="592" width="13" height="14" fill="#3dbc74"/>
<rect x="569" y="592" width="14" height="14" fill="#3fbc73"/>
<rect x="583" y="592" width="13" height="14" fill="#42be71"/>
<rect x="596" y="592" width="14" height="14" fill="#48c16e"/>
<rect x="610" y="592" width="13" height="14" fill="#52c569"/>
<rect x="623" y="592" width="13" height="14" fill="#5cc863"/>
<rect x="636" y="592" width="14" height="14" fill="#69cd5b"/>
<rect x="650" y="592" width="13" height="14" fill="#7ad151"/>
<rect x="663" y="592" width="14" height="14" fill="#8ed645"/>
<rect x="677" y="592" width="13" height="14" fill="#a2da37"/>
<rect x="690" y="592" width="14" height="14" fill="#bade28"/>
<rect x="704" y="592" width="13" height="14" fill="#d5e21a"/>
<rect x="717" y="592" width="14" height="14" fill="#ece51b"/>
<rect x="407" y="606" width="14" height="13" fill="#e2e418"/>
<rect x="421" y="606" width="13" height="13" fill="#cde11d"/>
<rect x="434" y="606" width="14" height="13" fill="#b2dd2d"/>
<rect x="448" y="606" width="13" height="13" fill="#9bd93c"/>
<rect x="461" y="606" width="14" height="13" fill="#86d549"/>
<rect x="475" y="606" width="13" height="13" fill="#75d054"/>
<rect x="488" y="606" width="14" height="13" fill="#65cb5e"/>
<rect x="502" y="606" width="13" height="13" fill="#58c765"/>
<rect x="515" y="606" width="14" height="13" fill="#4ec36b"/>
<rect x="529" y="606" width="13" height="13" fill="#46c06f"/>
<rect x="542" y="606" width="14" height="13" fill="#40bd72"/>
<rect x="556" y="606" width="13" height="13" fill="#3dbc74"/>
<rect x="569" y="606" width="14" height="13" fill="#3fbc73"/>
<rect x="583" y="606" width="13" height="13" fill="#42be71"/>
<rect x="596" y="606" width="14" height="13" fill="#48c16e"/>
<rect x="610" y="606" width="13" height="13" fill="#52c569"/>
<rect x="623" y="606" width="13" height="13" fill="#5cc863"/>
<rect x="636" y="606" width="14" height="13" fill="#69cd5b"/>
<rect x="650" y="606" width="13" height="13" fill="#7ad151"/>
<rect x="663" y="606" width="14" height="13" fill="#8ed645"/>
<rect x="677" y="606" width="13" height="13" fill="#a2da37"/>
<rect x="690" y="606" width="14" height="13" fill="#bade28"/>
<rect x="704" y="606" width="13" height="13" fill="#d5e21a"/>
<rect x="717" y="606" width="14" height="13" fill="#ece51b"/>
<rect x="407" y="619" width="14" height="14" fill="#e2e418"/>
<rect x="421" y="619" width="13" height="14" fill="#cde11d"/>
<rect x="434" y="619" width="14" height="14" fill="#b2dd2d"/>
<rect x="448" y="619" width="13" height="14" fill="#9bd93c"/>
<rect x="461" y="619" width="14" height="14" fill="#86d549"/>
<rect x="475" y="619" width="13" height="14" fill="#75d054"/>
<rect x="488" y="619" width="14" height="14" fill="#65cb5e"/>
<rect x="502" y="619" width="13" height="14" fill="#58c765"/>
<rect x="515" y="619" width="14" height="14" fill="#4ec36b"/>
<rect x="529" y="619" width="13" height="14" fill="#46c06f"/>
<rect x="542" y="619" width="14" height="14" fill="#40bd72"/>
<rect x="556" y="619" width="13" height="14" fill="#3dbc74"/>
<rect x="569" y="619" width="14" height="14" fill="#3fbc73"/>
<rect x="583" y="619" width="13" height="14" fill="#42be71"/>
<rect x="596" y="619" width="14" height="14" fill="#48c16e"/>
<rect x="610" y="619" width="13" height="14" fill="#52c569"/>
<rect x="623" y="619" width="13" height="14" fill="#5cc863"/>
<rect x="636" y="619" width="14" height="14" fill="#69cd5b"/>
<rect x="650" y="619" width="13" height="14" fill="#7ad151"/>
<rect x="663" y="619" width="14" height="14" fill="#8ed645"/>
<rect x="677" y="619" width="13" height="14" fill="#a2da37"/>
<rect x="690" y="619" width="14" height="14" fill="#bade28"/>
<rect x="704" y="619" width="13" height="14" fill="#d5e21a"/>
<rect x="717" y="619" width="14" height="14" fill="#ece51b"/>
<rect x="394" y="633" width="13" height="13" fill="#f6e620"/>
<rect x="407" y="633" width="14" height="13" fill="#dfe318"/>
<rect x="421" y="633" width="13" height="13" fill="#cae11f"/>
<rect x="434" y="633" width="14" height="13" fill="#b0dd2f"/>
<rect x="448" y="633" width="13" height="13" fill="#98d83e"/>
<rect x="461" y="633" width="14" height="13" fill="#84d44b"/>
<rect x="475" y="633" width="13" height="13" fill="#73d056"/>
<rect x="488" y="633" width="14" height="13" fill="#63cb5f"/>
<rect x="502" y="633" width="13" height="13" fill="#56c667"/>
<rect x="515" y="633" width="14" height="13" fill="#4cc26c"/>
<rect x="529" y="633" width="13" height="13" fill="#44bf70"/>
<rect x="542" y="633" width="14" height="13" fill="#40bd72"/>
<rect x="556" y="633" width="27" height="13" fill="#3dbc74"/>
<rect x="583" y="633" width="13" height="13" fill="#42be71"/>
<rect x="596" y="633" width="14" height="13" fill="#48c16e"/>
<rect x="610" y="633" width="13" height="13" fill="#50c46a"/>
<rect x="623" y="633" width="13" height="13" fill="#5ac864"/>
<rect x="636" y="633" width="14" height="13" fill="#67cc5c"/>
<rect x="650" y="633" width="13" height="13" fill="#77d153"/>
<rect x="663" y="633" width="14" height="13" fill="#8bd646"/>
<rect x="677" y="633" width="13" height="13" fill="#a0da39"/>
<rect x="690" y="633" width="14" height="13" fill="#b8de29"/>
<rect x="704" y="633" width="13" height="13" fill="#d0e11c"/>
<rect x="717" y="633" width="14" height="13" fill="#e7e419"/>
<rect x="394" y="646" width="13" height="14" fill="#f1e51d"/>
<rect x="407" y="646" width="14" height="14" fill="#dae319"/>
<rect x="421" y="646" width="13" height="14" fill="#c5e021"/>
<rect x="434" y="646" width="14" height="14" fill="#addc30"/>
<rect x="448" y="646" width="13" height="14" fill="#95d840"/>
<rect x="461" y="646" width="14" height="14" fill="#81d34d"/>
<rect x="475" y="646" width="13" height="14" fill="#6ece58"/>
<rect x="488" y="646" width="14" height="14" fill="#60ca60"/>
<rect x="502" y="646" width="13" height="14" fill="#54c568"/>
<rect x="515" y="646" width="14" height="14" fill="#4ac16d"/>
<rect x="529" y="646" width="13" height="14" fill="#42be71"/>
<rect x="542" y="646" width="14" height="14" fill="#3fbc73"/>
<rect x="556" y="646" width="13" height="14" fill="#3bbb75"/>
<rect x="569" y="646" width="14" height="14" fill="#3dbc74"/>
<rect x="583" y="646" width="13" height="14" fill="#40bd72"/>
<rect x="596" y="646" width="14" height="14" fill="#44bf70"/>
<rect x="610" y="646" width="13" height="14" fill="#4ec36b"/>
<rect x="623" y="646" width="13" height="14" fill="#58c765"/>
<rect x="636" y="646" width="14" height="14" fill="#65cb5e"/>
<rect x="650" y="646" width="13" height="14" fill="#75d054"/>
<rect x="663" y="646" width="14" height="14" fill="#89d548"/>
<rect x="677" y="646" width="13" height="14" fill="#9dd93b"/>
<rect x="690" y="646" width="14" height="14" fill="#b5de2b"/>
<rect x="704" y="646" width="13" height="14" fill="#cde11d"/>
<rect x="717" y="646" width="14" height="14" fill="#e2e418"/>
<rect x="394" y="660" width="13" height="13" fill="#ece51b"/>
<rect x="407" y="660" width="14" height="13" fill="#d5e21a"/>
<rect x="421" y="660" width="13" height="13" fill="#bddf26"/>
<rect x="434" y="660" width="14" height="13" fill="#a5db36"/>
<rect x="448" y="660" width="13" height="13" fill="#8ed645"/>
<rect x="461" y="660" width="14" height="13" fill="#7ad151"/>
<rect x="475" y="660" width="13" height="13" fill="#69cd5b"/>
<rect x="488" y="660" width="14" height="13" fill="#5ac864"/>
<rect x="502" y="660" width="13" height="13" fill="#50c46a"/>
<rect x="515" y="660" width="14" height="13" fill="#46c06f"/>
<rect x="529" y="660" width="13" height="13" fill="#40bd72"/>
<rect x="542" y="660" width="14" height="13" fill="#3dbc74"/>
<rect x="556" y="660" width="27" height="13" fill="#3bbb75"/>
<rect x="583" y="660" width="13" height="13" fill="#3dbc74"/>
<rect x="596" y="660" width="14" height="13" fill="#42be71"/>
<rect x="610" y="660" width="13" height="13" fill="#4ac16d"/>
<rect x="623" y="660" width="13" height="13" fill="#54c568"/>
<rect x="636" y="660" width="14" height="13" fill="#5ec962"/>
<rect x="650" y="660" width="13" height="13" fill="#6ece58"/>
<rect x="663" y="660" width="14" height="13" fill="#81d34d"/>
<rect x="677" y="660" width="13" height="13" fill="#95d840"/>
<rect x="690" y="660" width="14" height="13" fill="#addc30"/>
<rect x="704" y="660" width="13" height="13" fill="#c5e021"/>
<rect x="717" y="660" width="14" height="13" fill="#dde318"/>
<rect x="731" y="660" width="13" height="13" fill="#ece51b"/>
<rect x="394" y="673" width="13" height="14" fill="#eae51a"/>
<rect x="407" y="673" width="14" height="14" fill="#d2e21b"/>
<rect x="421" y="673" width="13" height="14" fill="#b8de29"/>
<rect x="434" y="673" width="14" height="14" fill="#a0da39"/>
<rect x="448" y="673" width="13" height="14" fill="#8bd646"/>
<rect x="461" y="673" width="14" height="14" fill="#77d153"/>
<rect x="475" y="673" width="13" height="14" fill="#65cb5e"/>
<rect x="488" y="673" width="14" height="14" fill="#58c765"/>
<rect x="502" y="673" width="13" height="14" fill="#4cc26c"/>
<rect x="515" y="673" width="14" height="14" fill="#40bd72"/>
<rect x="529" y="673" width="13" height="14" fill="#3dbc74"/>
<rect x="542" y="673" width="41" height="14" fill="#3aba76"/>
<rect x="583" y="673" width="13" height="14" fill="#3bbb75"/>
<rect x="596" y="673" width="14" height="14" fill="#3fbc73"/>
<rect x="610" y="673" width="13" height="14" fill="#44bf70"/>
<rect x="623" y="673" width="13" height="14" fill="#50c46a"/>
<rect x="636" y="673" width="14" height="14" fill="#5cc863"/>
<rect x="650" y="673" width="13" height="14" fill="#6ccd5a"/>
<rect x="663" y="673" width="14" height="14" fill="#7fd34e"/>
<rect x="677" y="673" width="13" height="14" fill="#93d741"/>
<rect x="690" y="673" width="14" height="14" fill="#a8db34"/>
<rect x="704" y="673" width="13" height="14" fill="#c0df25"/>
<rect x="717" y="673" width="14" height="14" fill="#dae319"/>
<rect x="731" y="673" width="13" height="14" fill="#f1e51d"/>
<rect x="381" y="687" width="13" height="13" fill="#fde725"/>
<rect x="394" y="687" width="13" height="13" fill="#e5e419"/>
<rect x="407" y="687" width="14" height="13" fill="#d0e11c"/>
<rect x="421" y="687" width="13" height="13" fill="#b5de2b"/>
<rect x="434" y="687" width="14" height="13" fill="#9dd93b"/>
<rect x="448" y="687" width="13" height="13" fill="#89d548"/>
<rect x="461" y="687" width="14" height="13" fill="#73d056"/>
<rect x="475" y="687" width="13" height="13" fill="#63cb5f"/>
<rect x="488" y="687" width="14" height="13" fill="#56c667"/>
<rect x="502" y="687" width="13" height="13" fill="#4ac16d"/>
<rect x="515" y="687" width="14" height="13" fill="#40bd72"/>
<rect x="529" y="687" width="13" height="13" fill="#3bbb75"/>
<rect x="542" y="687" width="41" height="13" fill="#38b977"/>
<rect x="583" y="687" width="13" height="13" fill="#3aba76"/>
<rect x="596" y="687" width="14" height="13" fill="#3dbc74"/>
<rect x="610" y="687" width="13" height="13" fill="#42be71"/>
<rect x="623" y="687" width="13" height="13" fill="#4ec36b"/>
<rect x="636" y="687" width="14" height="13" fill="#5ac864"/>
<rect x="650" y="687" width="13" height="13" fill="#69cd5b"/>
<rect x="663" y="687" width="14" height="13" fill="#7ad151"/>
<rect x="677" y="687" width="13" height="13" fill="#8ed645"/>
<rect x="690" y="687" width="14" height="13" fill="#a5db36"/>
<rect x="704" y="687" width="13" height="13" fill="#bddf26"/>
<rect x="717" y="687" width="14" height="13" fill="#d8e219"/>
<rect x="731" y="687" width="13" height="13" fill="#ece51b"/>
<rect x="744" y="687" width="14" height="13" fill="#fde725"/>
<rect x="381" y="700" width="13" height="14" fill="#fbe723"/>
<rect x="394" y="700" width="13" height="14" fill="#e2e418"/>
<rect x="407" y="700" width="14" height="14" fill="#cde11d"/>
<rect x="421" y="700" width="13" height="14" fill="#b2dd2d"/>
<rect x="434" y="700" width="14" height="14" fill="#9bd93c"/>
<rect x="448" y="700" width="13" height="14" fill="#86d549"/>
<rect x="461" y="700" width="14" height="14" fill="#73d056"/>
<rect x="475" y="700" width="13" height="14" fill="#63cb5f"/>
<rect x="488" y="700" width="14" height="14" fill="#56c667"/>
<rect x="502" y="700" width="13" height="14" fill="#4ac16d"/>
<rect x="515" y="700" width="14" height="14" fill="#3fbc73"/>
<rect x="529" y="700" width="13" height="14" fill="#3aba76"/>
<rect x="542" y="700" width="14" height="14" fill="#38b977"/>
<rect x="556" y="700" width="27" height="14" fill="#37b878"/>
<rect x="583" y="700" width="13" height="14" fill="#38b977"/>
<rect x="596" y="700" width="14" height="14" fill="#3bbb75"/>
<rect x="610" y="700" width="13" height="14" fill="#42be71"/>
<rect x="623" y="700" width="13" height="14" fill="#4ec36b"/>
<rect x="636" y="700" width="14" height="14" fill="#5ac864"/>
<rect x="650" y="700" width="13" height="14" fill="#67cc5c"/>
<rect x="663" y="700" width="14" height="14" fill="#7ad151"/>
<rect x="677" y="700" width="13" height="14" fill="#8ed645"/>
<rect x="690" y="700" width="14" height="14" fill="#a2da37"/>
<rect x="704" y="700" width="13" height="14" fill="#bade28"/>
<rect x="717" y="700" width="14" height="14" fill="#d5e21a"/>
<rect x="731" y="700" width="13" height="14" fill="#eae51a"/>
<rect x="744" y="700" width="14" height="14" fill="#fde725"/>
<rect x="381" y="714" width="13" height="13" fill="#fbe723"/>
<rect x="394" y="714" width="13" height="13" fill="#e2e418"/>
<rect x="407" y="714" width="14" height="13" fill="#cde11d"/>
<rect x="421" y="714" width="13" height="13" fill="#b5de2b"/>
<rect x="434" y="714" width="14" height="13" fill="#9dd93b"/>
<rect x="448" y="714" width="13" height="13" fill="#89d548"/>
<rect x="461" y="714" width="14" height="13" fill="#77d153"/>
<rect x="475" y="714" width="13" height="13" fill="#65cb5e"/>
<rect x="488" y="714" width="14" height="13" fill="#58c765"/>
<rect x="502" y="714" width="13" height="13" fill="#4ec36b"/>
<rect x="515" y="714" width="14" height="13" fill="#44bf70"/>
<rect x="529" y="714" width="13" height="13" fill="#3fbc73"/>
<rect x="542" y="714" width="14" height="13" fill="#3bbb75"/>
<rect x="556" y="714" width="27" height="13" fill="#3aba76"/>
<rect x="583" y="714" width="13" height="13" fill="#3bbb75"/>
<rect x="596" y="714" width="14" height="13" fill="#40bd72"/>
<rect x="610" y="714" width="13" height="13" fill="#46c06f"/>
<rect x="623" y="714" width="13" height="13" fill="#52c569"/>
<rect x="636" y="714" width="14" height="13" fill="#5cc863"/>
<rect x="650" y="714" width="13" height="13" fill="#6ccd5a"/>
<rect x="663" y="714" width="14" height="13" fill="#7cd250"/>
<rect x="677" y="714" width="13" height="13" fill="#90d743"/>
<rect x="690" y="714" width="14" height="13" fill="#a5db36"/>
<rect x="704" y="714" width="13" height="13" fill="#bddf26"/>
<rect x="717" y="714" width="14" height="13" fill="#d5e21a"/>
<rect x="731" y="714" width="13" height="13" fill="#eae51a"/>
<rect x="744" y="714" width="14" height="13" fill="#fde725"/>
<rect x="394" y="727" width="13" height="14" fill="#eae51a"/>
<rect x="407" y="727" width="14" height="14" fill="#d5e21a"/>
<rect x="421" y="727" width="13" height="14" fill="#bade28"/>
<rect x="434" y="727" width="14" height="14" fill="#a5db36"/>
<rect x="448" y="727" width="13" height="14" fill="#90d743"/>
<rect x="461" y="727" width="14" height="14" fill="#7fd34e"/>
<rect x="475" y="727" width="13" height="14" fill="#6ccd5a"/>
<rect x="488" y="727" width="14" height="14" fill="#5ec962"/>
<rect x="502" y="727" width="13" height="14" fill="#54c568"/>
<rect x="515" y="727" width="14" height="14" fill="#4cc26c"/>
<rect x="529" y="727" width="13" height="14" fill="#46c06f"/>
<rect x="542" y="727" width="14" height="14" fill="#42be71"/>
<rect x="556" y="727" width="27" height="14" fill="#40bd72"/>
<rect x="583" y="727" width="13" height="14" fill="#42be71"/>
<rect x="596" y="727" width="14" height="14" fill="#48c16e"/>
<rect x="610" y="727" width="13" height="14" fill="#4ec36b"/>
<rect x="623" y="727" width="13" height="14" fill="#56c667"/>
<rect x="636" y="727" width="14" height="14" fill="#63cb5f"/>
<rect x="650" y="727" width="13" height="14" fill="#73d056"/>
<rect x="663" y="727" width="14" height="14" fill="#84d44b"/>
<rect x="677" y="727" width="13" height="14" fill="#98d83e"/>
<rect x="690" y="727" width="14" height="14" fill="#addc30"/>
<rect x="704" y="727" width="13" height="14" fill="#c5e021"/>
<rect x="717" y="727" width="14" height="14" fill="#dae319"/>
<rect x="731" y="727" width="13" height="14" fill="#f1e51d"/>
<rect x="394" y="741" width="13" height="13" fill="#f1e51d"/>
<rect x="407" y="741" width="14" height="13" fill="#dde318"/>
<rect x="421" y="741" width="13" height="13" fill="#cae11f"/>
<rect x="434" y="741" width="14" height="13" fill="#b0dd2f"/>
<rect x="448" y="741" width="13" height="13" fill="#9dd93b"/>
<rect x="461" y="741" width="14" height="13" fill="#89d548"/>
<rect x="475" y="741" width="13" height="13" fill="#77d153"/>
<rect x="488" y="741" width="14" height="13" fill="#67cc5c"/>
<rect x="502" y="741" width="13" height="13" fill="#5cc863"/>
<rect x="515" y="741" width="14" height="13" fill="#54c568"/>
<rect x="529" y="741" width="13" height="13" fill="#4ec36b"/>
<rect x="542" y="741" width="14" height="13" fill="#4cc26c"/>
<rect x="556" y="741" width="27" height="13" fill="#4ac16d"/>
<rect x="583" y="741" width="13" height="13" fill="#4cc26c"/>
<rect x="596" y="741" width="14" height="13" fill="#50c46a"/>
<rect x="610" y="741" width="13" height="13" fill="#56c667"/>
<rect x="623" y="741" width="13" height="13" fill="#60ca60"/>
<rect x="636" y="741" width="14" height="13" fill="#6ccd5a"/>
<rect x="650" y="741" width="13" height="13" fill="#7cd250"/>
<rect x="663" y="741" width="14" height="13" fill="#90d743"/>
<rect x="677" y="741" width="13" height="13" fill="#a2da37"/>
<rect x="690" y="741" width="14" height="13" fill="#b8de29"/>
<rect x="704" y="741" width="13" height="13" fill="#d0e11c"/>
<rect x="717" y="741" width="14" height="13" fill="#e5e419"/>
<rect x="731" y="741" width="13" height="13" fill="#f6e620"/>
<rect x="407" y="754" width="14" height="14" fill="#ece51b"/>
<rect x="421" y="754" width="13" height="14" fill="#d8e219"/>
<rect x="434" y="754" width="14" height="14" fill="#c2df23"/>
<rect x="448" y="754" width="13" height="14" fill="#b0dd2f"/>
<rect x="461" y="754" width="14" height="14" fill="#9dd93b"/>
<rect x="475" y="754" width="13" height="14" fill="#8bd646"/>
<rect x="488" y="754" width="14" height="14" fill="#7cd250"/>
<rect x="502" y="754" width="13" height="14" fill="#70cf57"/>
<rect x="515" y="754" width="14" height="14" fill="#67cc5c"/>
<rect x="529" y="754" width="13" height="14" fill="#63cb5f"/>
<rect x="542" y="754" width="14" height="14" fill="#5ec962"/>
<rect x="556" y="754" width="13" height="14" fill="#5ac864"/>
<rect x="569" y="754" width="14" height="14" fill="#5cc863"/>
<rect x="583" y="754" width="13" height="14" fill="#5ec962"/>
<rect x="596" y="754" width="14" height="14" fill="#63cb5f"/>
<rect x="610" y="754" width="13" height="14" fill="#69cd5b"/>
<rect x="623" y="754" width="13" height="14" fill="#73d056"/>
<rect x="636" y="754" width="14" height="14" fill="#81d34d"/>
<rect x="650" y="754" width="13" height="14" fill="#90d743"/>
<rect x="663" y="754" width="14" height="14" fill="#a2da37"/>
<rect x="677" y="754" width="13" height="14" fill="#b5de2b"/>
<rect x="690" y="754" width="14" height="14" fill="#cae11f"/>
<rect x="704" y="754" width="13" height="14" fill="#dfe318"/>
<rect x="717" y="754" width="14" height="14" fill="#f1e51d"/>
<rect x="421" y="768" width="13" height="13" fill="#e5e419"/>
<rect x="434" y="768" width="14" height="13" fill="#d5e21a"/>
<rect x="448" y="768" width="13" height="13" fill="#c2df23"/>
<rect x="461" y="768" width="14" height="13" fill="#b0dd2f"/>
<rect x="475" y="768" width="13" height="13" fill="#a0da39"/>
<rect x="488" y="768" width="14" height="13" fill="#90d743"/>
<rect x="502" y="768" width="13" height="13" fill="#86d549"/>
<rect x="515" y="768" width="14" height="13" fill="#7ad151"/>
<rect x="529" y="768" width="13" height="13" fill="#75d054"/>
<rect x="542" y="768" width="14" height="13" fill="#70cf57"/>
<rect x="556" y="768" width="13" height="13" fill="#6ccd5a"/>
<rect x="569" y="768" width="14" height="13" fill="#6ece58"/>
<rect x="583" y="768" width="13" height="13" fill="#70cf57"/>
<rect x="596" y="768" width="14" height="13" fill="#77d153"/>
<rect x="610" y="768" width="13" height="13" fill="#7fd34e"/>
<rect x="623" y="768" width="13" height="13" fill="#89d548"/>
<rect x="636" y="768" width="14" height="13" fill="#95d840"/>
<rect x="650" y="768" width="13" height="13" fill="#a5db36"/>
<rect x="663" y="768" width="14" height="13" fill="#b5de2b"/>
<rect x="677" y="768" width="13" height="13" fill="#c8e020"/>
<rect x="690" y="768" width="14" height="13" fill="#dae319"/>
<rect x="704" y="768" width="13" height="13" fill="#efe51c"/>
<rect x="421" y="781" width="13" height="14" fill="#f1e51d"/>
<rect x="434" y="781" width="14" height="14" fill="#dfe318"/>
<rect x="448" y="781" width="13" height="14" fill="#d0e11c"/>
<rect x="461" y="781" width="14" height="14" fill="#c0df25"/>
<rect x="475" y="781" width="13" height="14" fill="#b0dd2f"/>
<rect x="488" y="781" width="14" height="14" fill="#a2da37"/>
<rect x="502" y="781" width="13" height="14" fill="#95d840"/>
<rect x="515" y="781" width="14" height="14" fill="#8ed645"/>
<rect x="529" y="781" width="13" height="14" fill="#86d549"/>
<rect x="542" y="781" width="14" height="14" fill="#81d34d"/>
<rect x="556" y="781" width="13" height="14" fill="#7fd34e"/>
<rect x="569" y="781" width="14" height="14" fill="#81d34d"/>
<rect x="583" y="781" width="13" height="14" fill="#84d44b"/>
<rect x="596" y="781" width="14" height="14" fill="#89d548"/>
<rect x="610" y="781" width="13" height="14" fill="#90d743"/>
<rect x="623" y="781" width="13" height="14" fill="#98d83e"/>
<rect x="636" y="781" width="14" height="14" fill="#a5db36"/>
<rect x="650" y="781" width="13" height="14" fill="#b5de2b"/>
<rect x="663" y="781" width="14" height="14" fill="#c5e021"/>
<rect x="677" y="781" width="13" height="14" fill="#d5e21a"/>
<rect x="690" y="781" width="14" height="14" fill="#e7e419"/>
<rect x="421" y="795" width="13" height="13" fill="#f6e620"/>
<rect x="434" y="795" width="14" height="13" fill="#e5e419"/>
<rect x="448" y="795" width="13" height="13" fill="#d5e21a"/>
<rect x="461" y="795" width="14" height="13" fill="#c5e021"/>
<rect x="475" y="795" width="13" height="13" fill="#b5de2b"/>
<rect x="488" y="795" width="14" height="13" fill="#a8db34"/>
<rect x="502" y="795" width="13" height="13" fill="#9dd93b"/>
<rect x="515" y="795" width="14" height="13" fill="#95d840"/>
<rect x="529" y="795" width="13" height="13" fill="#90d743"/>
<rect x="542" y="795" width="14" height="13" fill="#8ed645"/>
<rect x="556" y="795" width="27" height="13" fill="#8bd646"/>
<rect x="583" y="795" width="13" height="13" fill="#8ed645"/>
<rect x="596" y="795" width="14" height="13" fill="#93d741"/>
<rect x="610" y="795" width="13" height="13" fill="#98d83e"/>
<rect x="623" y="795" width="13" height="13" fill="#a2da37"/>
<rect x="636" y="795" width="14" height="13" fill="#addc30"/>
<rect x="650" y="795" width="13" height="13" fill="#bade28"/>
<rect x="663" y="795" width="14" height="13" fill="#cae11f"/>
<rect x="677" y="795" width="13" height="13" fill="#dae319"/>
<rect x="690" y="795" width="14" height="13" fill="#eae51a"/>
</g>
<circle cx="252.54" cy="680.05" r="22.45" fill="none" stroke="#000" stroke-width="2.1"/>
<rect x="273.79" y="679.05" width="2.4" height="2.1" fill="#000"/>
<circle cx="881.16" cy="680.05" r="22.45" fill="none" stroke="#000" stroke-width="2.1"/>
<rect x="902.41" y="679.05" width="2.4" height="2.1" fill="#000"/>
<circle cx="252.54" cy="275.94" r="22.45" fill="none" stroke="#000" stroke-width="2.1"/>
<rect x="273.79" y="274.94" width="2.4" height="2.1" fill="#000"/>
<circle cx="881.16" cy="275.94" r="22.45" fill="none" stroke="#000" stroke-width="2.1"/>
<rect x="902.41" y="274.94" width="2.4" height="2.1" fill="#000"/>
<rect x="1084" y="32" width="45" height="892" fill="url(#vir)" shape-rendering="crispEdges"/>
<path d="M110 134H1028V136H110ZM110 820H1028V822H110ZM110 134H112V822H110ZM1026 134H1028V822H1026ZM117 822H119V829H117ZM229 822H231V829H229ZM341 822H343V829H341ZM454 822H456V829H454ZM566 822H568V829H566ZM678 822H680V829H678ZM790 822H792V829H790ZM903 822H905V829H903ZM1015 822H1017V829H1015ZM103 185H110V187H103ZM103 275H110V277H103ZM103 365H110V367H103ZM103 455H110V457H103ZM103 544H110V546H103ZM103 634H110V636H103ZM103 724H110V726H103ZM103 814H110V816H103ZM1083 31H1130V33H1083ZM1083 923H1130V925H1083ZM1083 33H1085V923H1083ZM1128 33H1130V923H1128ZM1130 31H1137V33H1130ZM1130 209H1137V211H1130ZM1130 388H1137V390H1130ZM1130 566H1137V568H1130ZM1130 745H1137V747H1130ZM1130 923H1137V925H1130Z" fill="#000" fill-opacity="0.894" shape-rendering="crispEdges"/>
</svg>
<div class="t" style="font-size:27.30px;left:569.30px;top:97.50px;transform:translateX(-50%) scaleX(1.093);">Density Field Heatmap</div>
<div class="t" style="font-size:23.20px;left:569.30px;top:863.90px;transform:translateX(-50%) scaleX(1.175);">x [mm]</div>
<div class="t" style="font-size:22.50px;letter-spacing:0.075px;left:31.90px;top:478.80px;transform:translate(-50%,-50%) rotate(-90deg) scaleX(1.195);">y [mm]</div>
<div class="t" style="font-size:23.00px;letter-spacing:0.150px;left:1196.60px;top:479.50px;transform:translate(-50%,-50%) rotate(-90deg) scaleX(1.105);">Density &eta;</div>
<div class="t" style="font-size:22.20px;letter-spacing:0.150px;left:117.83px;top:834.00px;transform:translateX(-50%) scaleX(1.100);">0</div>
<div class="t" style="font-size:22.20px;letter-spacing:0.150px;left:230.08px;top:834.00px;transform:translateX(-50%) scaleX(1.100);">25</div>
<div class="t" style="font-size:22.20px;letter-spacing:0.150px;left:342.34px;top:834.00px;transform:translateX(-50%) scaleX(1.100);">50</div>
<div class="t" style="font-size:22.20px;letter-spacing:0.150px;left:454.59px;top:834.00px;transform:translateX(-50%) scaleX(1.100);">75</div>
<div class="t" style="font-size:22.20px;letter-spacing:0.150px;left:566.85px;top:834.00px;transform:translateX(-50%) scaleX(1.100);">100</div>
<div class="t" style="font-size:22.20px;letter-spacing:0.150px;left:679.11px;top:834.00px;transform:translateX(-50%) scaleX(1.100);">125</div>
<div class="t" style="font-size:22.20px;letter-spacing:0.150px;left:791.36px;top:834.00px;transform:translateX(-50%) scaleX(1.100);">150</div>
<div class="t" style="font-size:22.20px;letter-spacing:0.150px;left:903.62px;top:834.00px;transform:translateX(-50%) scaleX(1.100);">175</div>
<div class="t" style="font-size:22.20px;letter-spacing:0.150px;left:1015.87px;top:834.00px;transform:translateX(-50%) scaleX(1.100);">200</div>
<div class="t" style="font-size:23.20px;letter-spacing:-0.150px;right:1185.60px;top:815.46px;margin-top:-11.60px;transform-origin:100% 50%;transform:scaleX(1.080);">0</div>
<div class="t" style="font-size:23.20px;letter-spacing:-0.150px;right:1185.60px;top:725.66px;margin-top:-11.60px;transform-origin:100% 50%;transform:scaleX(1.080);">20</div>
<div class="t" style="font-size:23.20px;letter-spacing:-0.150px;right:1185.60px;top:635.85px;margin-top:-11.60px;transform-origin:100% 50%;transform:scaleX(1.080);">40</div>
<div class="t" style="font-size:23.20px;letter-spacing:-0.150px;right:1185.60px;top:546.05px;margin-top:-11.60px;transform-origin:100% 50%;transform:scaleX(1.080);">60</div>
<div class="t" style="font-size:23.20px;letter-spacing:-0.150px;right:1185.60px;top:456.24px;margin-top:-11.60px;transform-origin:100% 50%;transform:scaleX(1.080);">80</div>
<div class="t" style="font-size:23.20px;letter-spacing:-0.150px;right:1185.60px;top:366.44px;margin-top:-11.60px;transform-origin:100% 50%;transform:scaleX(1.080);">100</div>
<div class="t" style="font-size:23.20px;letter-spacing:-0.150px;right:1185.60px;top:276.64px;margin-top:-11.60px;transform-origin:100% 50%;transform:scaleX(1.080);">120</div>
<div class="t" style="font-size:23.20px;letter-spacing:-0.150px;right:1185.60px;top:186.83px;margin-top:-11.60px;transform-origin:100% 50%;transform:scaleX(1.080);">140</div>
<div class="t" style="font-size:22.50px;letter-spacing:-0.150px;left:1145.20px;top:924.95px;margin-top:-11.25px;transform-origin:0 50%;transform:scaleX(1.100);">0.0</div>
<div class="t" style="font-size:22.50px;letter-spacing:-0.150px;left:1145.20px;top:746.55px;margin-top:-11.25px;transform-origin:0 50%;transform:scaleX(1.100);">0.2</div>
<div class="t" style="font-size:22.50px;letter-spacing:-0.150px;left:1145.20px;top:568.15px;margin-top:-11.25px;transform-origin:0 50%;transform:scaleX(1.100);">0.4</div>
<div class="t" style="font-size:22.50px;letter-spacing:-0.150px;left:1145.20px;top:389.75px;margin-top:-11.25px;transform-origin:0 50%;transform:scaleX(1.100);">0.6</div>
<div class="t" style="font-size:22.50px;letter-spacing:-0.150px;left:1145.20px;top:211.35px;margin-top:-11.25px;transform-origin:0 50%;transform:scaleX(1.100);">0.8</div>
<div class="t" style="font-size:22.50px;letter-spacing:-0.150px;left:1145.20px;top:32.95px;margin-top:-11.25px;transform-origin:0 50%;transform:scaleX(1.100);">1.0</div>
</body></html>
